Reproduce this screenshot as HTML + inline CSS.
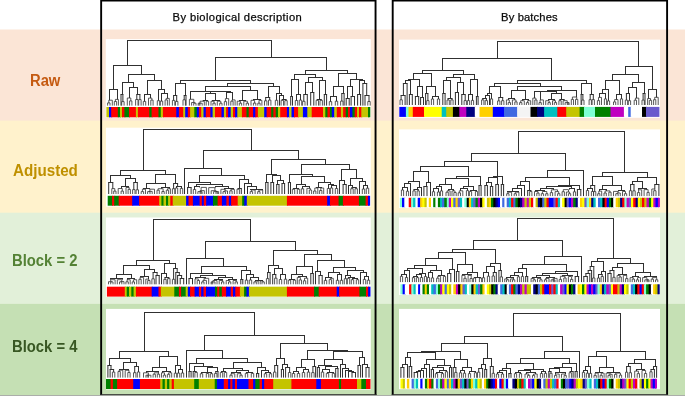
<!DOCTYPE html>
<html><head><meta charset="utf-8"><title>Dendrograms</title>
<style>
html,body{margin:0;padding:0;background:#fff;}
body{width:685px;height:396px;position:relative;overflow:hidden;font-family:"Liberation Sans",sans-serif;}
.lab{position:absolute;font-weight:bold;white-space:nowrap;line-height:1;transform-origin:0 0;}
.ttl{position:absolute;white-space:nowrap;line-height:1;color:#0a0a0a;transform-origin:0 0;-webkit-text-stroke:0.25px #0a0a0a;}
svg{position:absolute;left:0;top:0;}
</style></head><body>
<svg width="685" height="396" viewBox="0 0 685 396">
<rect x="0" y="29.5" width="685" height="92" fill="#fbe5d6"/>
<rect x="0" y="120.6" width="685" height="93" fill="#fff2cc"/>
<rect x="0" y="212.7" width="685" height="92" fill="#e2f0d9"/>
<rect x="0" y="303.9" width="685" height="93" fill="#c5e0b4"/>
<rect x="0" y="395.1" width="685" height="1" fill="#a9a9a9"/>
<path d="M101.15 395V0.45H375.55V395M392.7 395V0.45H667.1V395" fill="none" stroke="#000" stroke-width="1.9"/>
<path d="M100.2 394.6H376.5M391.75 394.6H668.05" fill="none" stroke="#2e2e2e" stroke-width="0.9"/>
<g><rect x="105.8" y="39.1" width="265" height="78.7" fill="#fff"/>
<path d="M108.8 100.2H112.3M108.8 100.2V102.9M107.6 105.6V102.9H110V105.6M112.3 100.2V105.6M115.4 99.4H118.4M115.4 99.4V101.5M114.3 105.6V101.5H116.6V105.6M118.4 99.4V105.6M121.7 105.6V101.6H124.1V105.6M127.3 98H130.8M127.3 98V105.6M130.8 98V100.9M129.6 105.6V100.9H131.9V105.6M135.6 105.6V99.5H138V105.6M138.7 105.6V99.6H141.1V105.6M143.3 105.6V101.4H145.7V105.6M148.5 98.1H151.9M148.5 98.1V105.6M151.9 98.1V100.1M150.8 105.6V100.1H153.1V105.6M157.3 105.6V100.7H159.7V105.6M160.3 105.6V101.1H162.7V105.6M166.2 98.4H169.3M166.2 98.4V99.9M165.1 105.6V99.9H167.4V105.6M169.3 98.4V105.6M172.4 105.6V100.4H174.8V105.6M175.5 105.6V101.4H177.9V105.6M183 105.6V99.8H185.4V105.6M189.4 99.3H193.8M189.4 99.3V105.6M193.8 99.3V102.5M191.6 102.5H194.8M191.6 102.5V105.6M194.8 102.5V103.2M193.7 105.6V103.2H196V105.6M200.1 101.2H204.3M200.1 101.2V103.2M199.1 103.2H202.2M199.1 103.2V105.6M198.2 103.2H200M198.2 103.2V105.6M200 103.2V105.6M202.2 103.2V105.6M204.3 101.2V105.6M206.2 105.6V101.2H208.6V105.6M211 101.2H214.1M211 101.2V105.6M214.1 101.2V103.2M212.9 105.6V103.2H215.2V105.6M217.3 101.2H220.8M217.3 101.2V105.6M220.8 101.2V103.2M219.7 105.6V103.2H222V105.6M225.4 98.6H228.7M225.4 98.6V101.6M224.3 105.6V101.6H226.6V105.6M228.7 98.6V105.6M232 99.9H235.1M232 99.9V101.2M230.8 105.6V101.2H233.1V105.6M235.1 99.9V105.6M237.2 101.2H240.4M237.2 101.2V105.6M240.4 101.2V103.2M239.3 105.6V103.2H241.6V105.6M243.8 101.2H247.4M243.8 101.2V105.6M247.4 101.2V103.2M246.2 105.6V103.2H248.5V105.6M251 100.3H254.6M251 100.3V105.6M254.6 100.3V103.1M253.4 105.6V103.1H255.8V105.6M259 100.3H261.9M259 100.3V103.2M257.8 105.6V103.2H260.1V105.6M261.9 100.3V105.6M264.5 105.6V100.8H266.9V105.6M268.5 105.6V100.1H270.9V105.6M275.3 105.6V100.3H277.7V105.6M281.1 105.6V100.3H283.5V105.6M284.8 105.6V100.6H287.2V105.6M295.3 105.6V100.5H297.7V105.6M299.3 105.6V100.1H301.7V105.6M302.6 105.6V101.3H305V105.6M316.1 105.6V100.3H318.5V105.6M320 105.6V100.3H322.4V105.6M329.3 105.6V101.6H331.7V105.6M335.3 105.6V101.2H337.7V105.6M340.6 105.6V101.1H343V105.6M367.8 105.6V101.5H370.2V105.6" fill="none" stroke="#3c3c3c" stroke-width="0.85"/>
<path d="M127 40.5H272M127.5 40.5V65.5M271.5 40.5V57.5M113 65.5H142M113.5 65.5V89.5M141.5 65.5V74.5M109 89.5H118M128 74.5H155M128.5 74.5V82.5M154.5 74.5V80.5M122 82.5H134M122.5 82.5V94.5M133.5 82.5V87.5M120.5 94.5H123.4M129 87.5H138M137.5 87.5V94.5M136.3 94.5H140.4M147 80.5H162M147.5 80.5V94.5M161.5 80.5V89.5M144 94.5H151M158 89.5H165M164.5 89.5V93.5M161 93.5H168M175 83.5H186M175.5 83.5V95.5M185.5 83.5V95.5M173.1 95.5H177.2M183.7 95.5H186.5M180 80.5H251M180.5 80.5V83.5M250.5 80.5V83.5M215 57.5H327M215.5 57.5V80.5M326.5 57.5V70.5M227 83.5H274M227.5 83.5V86.5M273.5 83.5V86.5M205 86.5H251M205.5 86.5V91.5M250.5 86.5V90.5M190 91.5H221M220.5 91.5V91.5M210 91.5H231M210.5 91.5V93.5M230.5 91.5V92.5M205 93.5H216M205.5 93.5V100.5M215.5 93.5V100.5M226 92.5H233M202.8 100.5H207.9M212 100.5H220M242 90.5H258M242.5 90.5V100.5M257.5 90.5V99.5M239 100.5H246M253 99.5H261M268 86.5H280M268.5 86.5V97.5M279.5 86.5V93.5M265.2 97.5H270.2M276 93.5H282M281.5 93.5V95.5M279 95.5H284M283.5 95.5V99.5M281.8 99.5H286.5M305 70.5H348M305.5 70.5V74.5M347.5 70.5V73.5M294 74.5H316M294.5 74.5V79.5M315.5 74.5V77.5M291 79.5H299M291.5 79.5V96.5M298.5 79.5V94.5M290.2 96.5H293M296 94.5H301M308 77.5H323M308.5 77.5V82.5M322.5 77.5V80.5M305 82.5H313M305.5 82.5V94.5M312.5 82.5V92.5M303.3 94.5H307.8M310.2 92.5H314.3M319 80.5H326M319.5 80.5V99.5M325.5 80.5V94.5M316.8 99.5H321.7M323.8 94.5H327.1M338 73.5H357M338.5 73.5V86.5M356.5 73.5V79.5M333 86.5H344M333.5 86.5V96.5M343.5 86.5V93.5M330 96.5H337M341.3 93.5H344.6M350 79.5H363M350.5 79.5V86.5M362.5 79.5V80.5M347 86.5H353M347.5 86.5V98.5M352.5 86.5V96.5M345.7 98.5H349.7M350.6 96.5H355M359 80.5H365M359.5 80.5V94.5M364.5 80.5V83.5M357.1 94.5H361.1M362.4 83.5H367.2M366.7 83.5V95.5M364.5 95.5H369.5M109.5 89.5V100.2M117.5 89.5V99.4M121 94.5V105.6M122.9 94.5V101.6M129.5 87.5V98M136.8 94.5V99.5M139.9 94.5V99.6M144.5 94.5V101.4M150.5 94.5V98.1M158.5 89.5V100.7M161.5 93.5V101.1M167.5 93.5V98.4M173.6 95.5V100.4M176.7 95.5V101.4M184.2 95.5V99.8M186 95.5V105.6M190.5 91.5V99.3M203.3 100.5V101.2M207.4 100.5V101.2M212.5 100.5V101.2M219.5 100.5V101.2M226.5 92.5V98.6M232.5 92.5V99.9M239.5 100.5V101.2M245.5 100.5V101.2M253.5 99.5V100.3M260.5 99.5V100.3M265.7 97.5V100.8M269.7 97.5V100.1M276.5 93.5V100.3M279.5 95.5V105.6M282.3 99.5V100.3M286 99.5V100.6M290.7 96.5V105.6M292.5 96.5V105.6M296.5 94.5V100.5M300.5 94.5V100.1M303.8 94.5V101.3M307.3 94.5V105.6M310.7 92.5V105.6M313.8 92.5V105.6M317.3 99.5V100.3M321.2 99.5V100.3M324.3 94.5V105.6M326.6 94.5V105.6M330.5 96.5V101.6M336.5 96.5V101.2M341.8 93.5V101.1M344.1 93.5V105.6M346.2 98.5V105.6M349.2 98.5V105.6M351.1 96.5V105.6M354.5 96.5V105.6M357.6 94.5V105.6M360.6 94.5V105.6M362.9 83.5V105.6M365 95.5V105.6M369 95.5V101.5" fill="none" stroke="#303030" stroke-width="1"/>
<rect x="106.4" y="107" width="3.6" height="10.3" fill="#c4c400"/>
<rect x="109" y="107" width="3.2" height="10.3" fill="#0000ff"/>
<rect x="111.2" y="107" width="7.6" height="10.3" fill="#ff0000"/>
<rect x="117.8" y="107" width="3.2" height="10.3" fill="#008000"/>
<rect x="120" y="107" width="3" height="10.3" fill="#c4c400"/>
<rect x="122" y="107" width="3.4" height="10.3" fill="#ff0000"/>
<rect x="124.4" y="107" width="5.6" height="10.3" fill="#008000"/>
<rect x="129" y="107" width="7.9" height="10.3" fill="#ff0000"/>
<rect x="135.9" y="107" width="3" height="10.3" fill="#c4c400"/>
<rect x="137.9" y="107" width="12.4" height="10.3" fill="#ff0000"/>
<rect x="149.3" y="107" width="3.3" height="10.3" fill="#008000"/>
<rect x="151.6" y="107" width="7.9" height="10.3" fill="#ff0000"/>
<rect x="158.5" y="107" width="3.3" height="10.3" fill="#008000"/>
<rect x="160.8" y="107" width="3.1" height="10.3" fill="#c4c400"/>
<rect x="162.9" y="107" width="14.4" height="10.3" fill="#ff0000"/>
<rect x="176.3" y="107" width="3.6" height="10.3" fill="#0000ff"/>
<rect x="178.9" y="107" width="5.3" height="10.3" fill="#ff0000"/>
<rect x="183.2" y="107" width="3" height="10.3" fill="#c4c400"/>
<rect x="185.2" y="107" width="3.6" height="10.3" fill="#0000ff"/>
<rect x="187.8" y="107" width="3.3" height="10.3" fill="#ff0000"/>
<rect x="190.1" y="107" width="5.2" height="10.3" fill="#c4c400"/>
<rect x="194.3" y="107" width="3.5" height="10.3" fill="#008000"/>
<rect x="196.8" y="107" width="3.1" height="10.3" fill="#0000ff"/>
<rect x="198.9" y="107" width="3.3" height="10.3" fill="#ff0000"/>
<rect x="201.2" y="107" width="3.3" height="10.3" fill="#c4c400"/>
<rect x="203.5" y="107" width="3.3" height="10.3" fill="#0000ff"/>
<rect x="205.8" y="107" width="5.6" height="10.3" fill="#ff0000"/>
<rect x="210.4" y="107" width="3.2" height="10.3" fill="#0000ff"/>
<rect x="212.6" y="107" width="3.4" height="10.3" fill="#c4c400"/>
<rect x="215" y="107" width="7.5" height="10.3" fill="#ff0000"/>
<rect x="221.5" y="107" width="3.4" height="10.3" fill="#0000ff"/>
<rect x="223.9" y="107" width="3.2" height="10.3" fill="#c4c400"/>
<rect x="226.1" y="107" width="3" height="10.3" fill="#ff0000"/>
<rect x="228.1" y="107" width="3.6" height="10.3" fill="#0000ff"/>
<rect x="230.7" y="107" width="3.3" height="10.3" fill="#c4c400"/>
<rect x="233" y="107" width="3.1" height="10.3" fill="#ff0000"/>
<rect x="235.1" y="107" width="3.2" height="10.3" fill="#0000ff"/>
<rect x="237.3" y="107" width="5.6" height="10.3" fill="#c4c400"/>
<rect x="241.9" y="107" width="5.6" height="10.3" fill="#ff0000"/>
<rect x="246.5" y="107" width="3.2" height="10.3" fill="#008000"/>
<rect x="248.7" y="107" width="5.4" height="10.3" fill="#ff0000"/>
<rect x="253.1" y="107" width="3.2" height="10.3" fill="#0000ff"/>
<rect x="255.3" y="107" width="3.6" height="10.3" fill="#ff0000"/>
<rect x="257.9" y="107" width="7.3" height="10.3" fill="#c4c400"/>
<rect x="264.2" y="107" width="3.4" height="10.3" fill="#0000ff"/>
<rect x="266.6" y="107" width="5.6" height="10.3" fill="#ff0000"/>
<rect x="271.2" y="107" width="3.2" height="10.3" fill="#008000"/>
<rect x="273.4" y="107" width="3.3" height="10.3" fill="#ff0000"/>
<rect x="275.7" y="107" width="3.3" height="10.3" fill="#008000"/>
<rect x="278" y="107" width="3.2" height="10.3" fill="#c4c400"/>
<rect x="280.2" y="107" width="7.7" height="10.3" fill="#ff0000"/>
<rect x="286.9" y="107" width="3.2" height="10.3" fill="#0000ff"/>
<rect x="289.1" y="107" width="3.4" height="10.3" fill="#c4c400"/>
<rect x="291.5" y="107" width="3.5" height="10.3" fill="#0000ff"/>
<rect x="294" y="107" width="5.1" height="10.3" fill="#ff0000"/>
<rect x="298.1" y="107" width="5.8" height="10.3" fill="#c4c400"/>
<rect x="302.9" y="107" width="5.4" height="10.3" fill="#0000ff"/>
<rect x="307.3" y="107" width="5.4" height="10.3" fill="#c4c400"/>
<rect x="311.7" y="107" width="12.3" height="10.3" fill="#ff0000"/>
<rect x="323" y="107" width="3.3" height="10.3" fill="#c4c400"/>
<rect x="325.3" y="107" width="3.2" height="10.3" fill="#008000"/>
<rect x="327.5" y="107" width="3.4" height="10.3" fill="#ff0000"/>
<rect x="329.9" y="107" width="2.9" height="10.3" fill="#008000"/>
<rect x="331.8" y="107" width="3.4" height="10.3" fill="#0000ff"/>
<rect x="334.2" y="107" width="3.6" height="10.3" fill="#c4c400"/>
<rect x="336.8" y="107" width="5.1" height="10.3" fill="#ff0000"/>
<rect x="340.9" y="107" width="3.2" height="10.3" fill="#c4c400"/>
<rect x="343.1" y="107" width="3.6" height="10.3" fill="#ff0000"/>
<rect x="345.7" y="107" width="3.3" height="10.3" fill="#008000"/>
<rect x="348" y="107" width="2.9" height="10.3" fill="#ff0000"/>
<rect x="349.9" y="107" width="3.5" height="10.3" fill="#0000ff"/>
<rect x="352.4" y="107" width="3.3" height="10.3" fill="#008000"/>
<rect x="354.7" y="107" width="3.3" height="10.3" fill="#ff0000"/>
<rect x="357" y="107" width="3" height="10.3" fill="#c4c400"/>
<rect x="359" y="107" width="3.3" height="10.3" fill="#ff0000"/>
<rect x="361.3" y="107" width="7.7" height="10.3" fill="#c4c400"/>
<rect x="368" y="107" width="2.3" height="10.3" fill="#008000"/></g>
<g><rect x="399" y="39.6" width="261" height="78.2" fill="#fff"/>
<path d="M400 105V99.8H402.3V105M426.7 105V100.6H429V105M431.4 105V99H433.6V105M437.4 105V99H439.6V105M447 105V100H449.3V105M450.8 105V99.9H453.1V105M464.1 105V100.6H466.4V105M467.4 105V100.6H469.6V105M471.4 105V100.4H473.6V105M481.6 105V99.9H483.9V105M485.2 105V100.6H487.5V105M490.4 105V98.9H492.6V105M497.6 105V100.9H499.9V105M501.6 105V100.7H503.9V105M506.4 99.9H509.3M506.4 99.9V105M509.3 99.9V102.6M508.2 105V102.6H510.5V105M512.4 99.9H516M512.4 99.9V105M516 99.9V101.9M514.8 105V101.9H517.1V105M520.7 100.7H524.3M520.7 100.7V102.6M519.6 105V102.6H521.9V105M524.3 100.7V105M527.6 100.7H530.7M527.6 100.7V102.6M526.4 105V102.6H528.7V105M530.7 100.7V105M532.8 98.1H535.9M532.8 98.1V105M535.9 98.1V100M534.8 105V100H537V105M540.1 99.9H543.4M540.1 99.9V102.6M539 105V102.6H541.3V105M543.4 99.9V105M545.7 100.7H549.2M545.7 100.7V105M549.2 100.7V102.6M548 105V102.6H550.3V105M552.5 100.7H555.5M552.5 100.7V105M555.5 100.7V102.6M554.3 105V102.6H556.6V105M558.9 105V100.7H561.2V105M563.1 100.7H567.2M563.1 100.7V105M567.2 100.7V102.6M565.1 102.6H568.2M565.1 102.6V105M568.2 102.6V105M567.3 102.6H569.1M567.3 102.6V105M569.1 102.6V105M572.4 97H576.7M572.4 97V99.4M571.3 105V99.4H573.5V105M576.7 97V99.4M575.5 105V99.4H577.8V105M581.7 105V100.1H584V105M589.1 105V99.7H591.4V105M592.1 105V99.6H594.4V105M598.5 97.4H601.5M598.5 97.4V100.6M597.4 105V100.6H599.6V105M601.5 97.4V105M604.4 105V98.9H606.6V105M607.4 105V100.9H609.6V105M614.6 99.6H618M614.6 99.6V101.9M613.5 105V101.9H615.7V105M618 99.6V105M620.4 105V98.9H622.6V105M625.3 105V100.1H627.6V105M628.3 105V100.7H630.6V105M635.4 98.1H638.8M635.4 98.1V100.2M634.2 105V100.2H636.5V105M638.8 98.1V105M642 105V100.1H644.3V105M647.6 98.5H650.5M647.6 98.5V105M650.5 98.5V100.3M649.3 105V100.3H651.6V105M654.7 97.3H658.2M654.7 97.3V99.7M653.6 105V99.7H655.8V105M658.2 97.3V105" fill="none" stroke="#3c3c3c" stroke-width="0.85"/>
<path d="M497 41.5H639M497.5 41.5V58.5M638.5 41.5V66.5M625 66.5H653M625.5 66.5V74.5M652.5 66.5V89.5M648 89.5H657M612 74.5H639M612.5 74.5V80.5M638.5 74.5V82.5M632 82.5H645M632.5 82.5V87.5M644.5 82.5V93.5M642.6 93.5H645.5M628 87.5H637M628.5 87.5V93.5M625.9 93.5H630M605 80.5H620M605.5 80.5V89.5M619.5 80.5V94.5M616 94.5H622M602 89.5H609M602.5 89.5V93.5M599 93.5H606M581 83.5H592M581.5 83.5V94.5M591.5 83.5V94.5M589.7 94.5H593.8M580.6 94.5H583.4M517 80.5H587M517.5 80.5V83.5M586.5 80.5V83.5M442 58.5H552M442.5 58.5V70.5M551.5 58.5V80.5M494 83.5H541M494.5 83.5V86.5M540.5 83.5V86.5M517 86.5H562M517.5 86.5V90.5M561.5 86.5V90.5M547 90.5H577M547.5 90.5V91.5M537 91.5H557M537.5 91.5V91.5M556.5 91.5V93.5M551 93.5H562M551.5 93.5V99.5M561.5 93.5V99.5M534 91.5H541M559.5 99.5H564.6M548 99.5H555M511 90.5H526M511.5 90.5V98.5M525.5 90.5V99.5M522 99.5H529M508 98.5H515M489 86.5H501M489.5 86.5V93.5M500.5 86.5V97.5M498.3 97.5H503.2M487 93.5H492M487.5 93.5V95.5M485 95.5H490M485.5 95.5V98.5M482.2 98.5H486.9M422 70.5H464M422.5 70.5V73.5M463.5 70.5V74.5M453 74.5H475M453.5 74.5V77.5M474.5 74.5V79.5M470 79.5H478M470.5 79.5V94.5M477.5 79.5V96.5M475.9 96.5H478.6M468 94.5H473M446 77.5H461M446.5 77.5V80.5M460.5 77.5V82.5M457 82.5H464M457.5 82.5V92.5M463.5 82.5V94.5M461.3 94.5H465.7M454.9 92.5H459M443 80.5H451M443.5 80.5V93.5M450.5 80.5V98.5M447.6 98.5H452.5M442.3 93.5H445.6M413 73.5H432M413.5 73.5V79.5M431.5 73.5V86.5M426 86.5H436M426.5 86.5V93.5M435.5 86.5V96.5M432 96.5H439M425.1 93.5H428.4M408 79.5H420M408.5 79.5V80.5M419.5 79.5V86.5M417 86.5H423M417.5 86.5V96.5M422.5 86.5V97.5M420.1 97.5H424M414.9 96.5H419.2M405 80.5H411M405.5 80.5V83.5M410.5 80.5V94.5M408.9 94.5H412.8M402.9 83.5H407.6M403.4 83.5V95.5M400.6 95.5H405.6M401.1 95.5V99.8M405.1 95.5V105M407.1 83.5V105M409.4 94.5V105M412.3 94.5V105M415.4 96.5V105M418.7 96.5V105M420.6 97.5V105M423.5 97.5V105M425.6 93.5V105M427.9 93.5V100.6M432.5 96.5V99M438.5 96.5V99M442.8 93.5V105M445.1 93.5V105M448.1 98.5V100M452 98.5V99.9M455.4 92.5V105M458.5 92.5V105M461.8 94.5V105M465.2 94.5V100.6M468.5 94.5V100.6M472.5 94.5V100.4M476.4 96.5V105M478.1 96.5V105M482.7 98.5V99.9M486.4 98.5V100.6M489.5 95.5V105M491.5 93.5V98.9M498.8 97.5V100.9M502.7 97.5V100.7M508.5 98.5V99.9M514.5 98.5V99.9M522.5 99.5V100.7M528.5 99.5V100.7M534.5 91.5V98.1M540.5 91.5V99.9M548.5 99.5V100.7M554.5 99.5V100.7M560 99.5V100.7M564.1 99.5V100.7M576.5 90.5V97M581.1 94.5V105M582.9 94.5V100.1M590.2 94.5V99.7M593.3 94.5V99.6M599.5 93.5V97.4M605.5 93.5V98.9M608.5 89.5V100.9M616.5 94.5V99.6M621.5 94.5V98.9M626.4 93.5V100.1M629.5 93.5V100.7M636.5 87.5V98.1M643.1 93.5V100.1M645 93.5V105M648.5 89.5V98.5M656.5 89.5V97.3" fill="none" stroke="#303030" stroke-width="1"/>
<rect x="399.3" y="106.9" width="7.6" height="10" fill="#0000ff"/>
<rect x="405.9" y="106.9" width="3.6" height="10" fill="#7fffd4"/>
<rect x="408.5" y="106.9" width="5.3" height="10" fill="#ffd000"/>
<rect x="412.8" y="106.9" width="12.2" height="10" fill="#ff0000"/>
<rect x="424" y="106.9" width="18.7" height="10" fill="#ffff00"/>
<rect x="441.7" y="106.9" width="5.5" height="10" fill="#00c0c0"/>
<rect x="446.2" y="106.9" width="7.7" height="10" fill="#c4c400"/>
<rect x="452.9" y="106.9" width="7.4" height="10" fill="#000000"/>
<rect x="459.3" y="106.9" width="8" height="10" fill="#c000c0"/>
<rect x="466.3" y="106.9" width="9.5" height="10" fill="#000080"/>
<rect x="474.8" y="106.9" width="5.7" height="10" fill="#ffffff"/>
<rect x="479.5" y="106.9" width="14.3" height="10" fill="#ffd000"/>
<rect x="492.8" y="106.9" width="12.2" height="10" fill="#0000ff"/>
<rect x="504" y="106.9" width="14.1" height="10" fill="#4169e1"/>
<rect x="517.1" y="106.9" width="14.4" height="10" fill="#f4f4f4"/>
<rect x="530.5" y="106.9" width="7.6" height="10" fill="#000000"/>
<rect x="537.1" y="106.9" width="8" height="10" fill="#000080"/>
<rect x="544.1" y="106.9" width="14.2" height="10" fill="#00c0c0"/>
<rect x="557.3" y="106.9" width="9.9" height="10" fill="#ff0000"/>
<rect x="566.2" y="106.9" width="14.4" height="10" fill="#c4c400"/>
<rect x="579.6" y="106.9" width="5.4" height="10" fill="#008000"/>
<rect x="584" y="106.9" width="12" height="10" fill="#7fffd4"/>
<rect x="595" y="106.9" width="16.5" height="10" fill="#008000"/>
<rect x="610.5" y="106.9" width="14.4" height="10" fill="#c000c0"/>
<rect x="623.9" y="106.9" width="5.3" height="10" fill="#ffffff"/>
<rect x="628.2" y="106.9" width="3.5" height="10" fill="#4169e1"/>
<rect x="630.7" y="106.9" width="12.3" height="10" fill="#ffffff"/>
<rect x="642" y="106.9" width="5" height="10" fill="#000000"/>
<rect x="646" y="106.9" width="13.4" height="10" fill="#6a5acd"/></g>
<g><rect x="106" y="127.7" width="264.8" height="79" fill="#fff"/>
<path d="M111.8 188.6H114.8M111.8 188.6V194M114.8 188.6V191.1M113.7 194V191.1H116V194M118.2 188.5H122.3M118.2 188.5V194M122.3 188.5V191.1M121.1 194V191.1H123.4V194M126 187.5H129.2M126 187.5V194M129.2 187.5V189.4M128.1 194V189.4H130.4V194M132.6 194V189.6H135V194M136.1 194V189.8H138.5V194M142.4 189.2H145.5M142.4 189.2V191.6M141.2 194V191.6H143.6V194M145.5 189.2V194M149.9 189.2H154.5M149.9 189.2V191.4M148.8 191.4H152.2M148.8 191.4V191.6M147.6 194V191.6H150V194M152.2 191.4V194M154.5 189.2V194M158.1 188.7H163.1M158.1 188.7V190.2M157 194V190.2H159.3V194M163.1 188.7V191.5M161.9 194V191.5H164.2V194M167.5 188.7H170.4M167.5 188.7V190.2M166.3 194V190.2H168.6V194M170.4 188.7V194M172.4 194V188.7H174.8V194M175.3 194V188H177.7V194M180.3 194V188.4H182.7V194M193.3 194V189.5H195.7V194M201.1 187.4H206.4M201.1 187.4V190.6M200 190.6H204.3M200 190.6V191.6M197.9 191.6H201.1M197.9 191.6V194M201.1 191.6V194M200.1 191.6H202.1M200.1 191.6V194M202.1 191.6V194M204.3 190.6V194M206.4 187.4V194M208.7 187.6H214.9M208.7 187.6V194M214.9 187.6V190.7M211.2 190.7H216.1M211.2 190.7V194M216.1 190.7V191.6M213.6 191.6H217.3M213.6 191.6V194M217.3 191.6V194M216 191.6H218.6M216 191.6V194M218.6 191.6V194M220.9 189.3H225.3M220.9 189.3V194M225.3 189.3V190.9M224.2 190.9H227.5M224.2 190.9V191.6M223 194V191.6H225.4V194M227.5 190.9V194M230.9 189.3H234.4M230.9 189.3V190.8M229.8 194V190.8H232.1V194M234.4 189.3V194M237 194V189.2H239.4V194M251.4 190H255.1M251.4 190V191.6M250.2 194V191.6H252.6V194M255.1 190V194M258.9 190H262.7M258.9 190V191.6M257.7 194V191.6H260V194M262.7 190V194M292.3 194V189.2H294.7V194M297.3 194V189.2H299.7V194M301.3 194V188.8H303.7V194M306.9 188.4H310.4M306.9 188.4V194M310.4 188.4V190M309.3 194V190H311.6V194M314.8 188H317.8M314.8 188V191M313.6 194V191H315.9V194M317.8 188V194M320.8 188H323.7M320.8 188V190.5M319.6 194V190.5H321.9V194M323.7 188V194M327.3 194V188.5H329.7V194M330.3 194V188H332.7V194M335.3 194V188.5H337.7V194M350.8 194V188.7H353.2V194M355 194V188.7H357.4V194M362.3 194V189H364.7V194M366.3 194V188.2H368.7V194" fill="none" stroke="#3c3c3c" stroke-width="0.85"/>
<path d="M143 129.5H252M143.5 129.5V170.5M251.5 129.5V150.5M120 170.5H166M120.5 170.5V175.5M165.5 170.5V174.5M110 175.5H131M110.5 175.5V182.5M130.5 175.5V178.5M108.2 182.5H113.3M125 178.5H136M125.5 178.5V186.5M135.5 178.5V182.5M121 186.5H129M133.3 182.5H137.8M155 174.5H176M155.5 174.5V183.5M175.5 174.5V183.5M146 183.5H166M146.5 183.5V188.5M165.5 183.5V187.5M143 188.5H150M161 187.5H170M173.1 183.5H178.1M177.6 183.5V186.5M176 186.5H182M203 150.5H299M203.5 150.5V168.5M298.5 150.5V159.5M184 168.5H222M184.5 168.5V194M221.5 168.5V175.5M199 175.5H245M199.5 175.5V182.5M244.5 175.5V179.5M188 182.5H211M188.5 182.5V187.5M210.5 182.5V184.5M187.1 187.5H191.6M196 184.5H223M196.5 184.5V186.5M222.5 184.5V186.5M194 186.5H200M215 186.5H229M228.5 186.5V188.5M224 188.5H234M239 179.5H249M239.5 179.5V188.5M248.5 179.5V183.5M237.7 188.5H241.8M244 183.5H252M251.5 183.5V186.5M247 186.5H257M256.5 186.5V189.5M250 189.5H263M271 159.5H326M271.5 159.5V174.5M325.5 159.5V164.5M266 174.5H277M266.5 174.5V182.5M276.5 174.5V175.5M272 175.5H281M272.5 175.5V182.5M280.5 175.5V180.5M265.2 182.5H268.5M270.4 182.5H274.1M277 180.5H284M277.5 180.5V184.5M283.5 180.5V183.5M276.2 184.5H279.5M281.5 183.5H285.1M301 164.5H350M301.5 164.5V174.5M349.5 164.5V169.5M289 174.5H313M289.5 174.5V182.5M312.5 174.5V176.5M287.9 182.5H291M301 176.5H325M301.5 176.5V184.5M324.5 176.5V182.5M296 184.5H306M296.5 184.5V188.5M305.5 184.5V186.5M293 188.5H299M302 186.5H310M318 182.5H331M318.5 182.5V187.5M330.5 182.5V184.5M316 187.5H322M328 184.5H334M333.5 184.5V185.5M331 185.5H337M341 169.5H357M341.5 169.5V180.5M356.5 169.5V178.5M339 180.5H345M344.5 180.5V184.5M342.6 184.5H346.7M350 178.5H363M350.5 178.5V185.5M362.5 178.5V181.5M348 185.5H353M352.5 185.5V187.5M351.5 187.5H356.7M359 181.5H366M359.5 181.5V194M365.5 181.5V185.5M363 185.5H368M108.7 182.5V194M112.8 182.5V188.6M121.5 186.5V188.5M128.5 186.5V187.5M133.8 182.5V189.6M137.3 182.5V189.8M143.5 188.5V189.2M149.5 188.5V189.2M161.5 187.5V188.7M169.5 187.5V188.7M173.6 183.5V188.7M176.5 186.5V188M181.5 186.5V188.4M187.6 187.5V194M191.1 187.5V194M194.5 186.5V189.5M199.5 186.5V187.4M215.5 186.5V187.6M224.5 188.5V189.3M233.5 188.5V189.3M238.2 188.5V189.2M241.3 188.5V194M244.5 183.5V194M247.5 186.5V194M250.5 189.5V190M262.5 189.5V190M265.7 182.5V194M268 182.5V194M270.9 182.5V194M273.6 182.5V194M276.7 184.5V194M279 184.5V194M282 183.5V194M284.6 183.5V194M288.4 182.5V194M290.5 182.5V194M293.5 188.5V189.2M298.5 188.5V189.2M302.5 186.5V188.8M309.5 186.5V188.4M316.5 187.5V188M321.5 187.5V188M328.5 184.5V188.5M331.5 185.5V188M336.5 185.5V188.5M339.5 180.5V194M343.1 184.5V194M346.2 184.5V194M348.5 185.5V194M352 187.5V188.7M356.2 187.5V188.7M363.5 185.5V189M367.5 185.5V188.2" fill="none" stroke="#303030" stroke-width="1"/>
<rect x="107.7" y="195.8" width="5.4" height="9.9" fill="#008000"/>
<rect x="112.1" y="195.8" width="3.1" height="9.9" fill="#ff0000"/>
<rect x="114.2" y="195.8" width="5.5" height="9.9" fill="#008000"/>
<rect x="118.7" y="195.8" width="14.5" height="9.9" fill="#ff0000"/>
<rect x="132.2" y="195.8" width="7.9" height="9.9" fill="#0000ff"/>
<rect x="139.1" y="195.8" width="21.1" height="9.9" fill="#ff0000"/>
<rect x="159.2" y="195.8" width="3.2" height="9.9" fill="#c4c400"/>
<rect x="161.4" y="195.8" width="3.1" height="9.9" fill="#008000"/>
<rect x="163.5" y="195.8" width="3.5" height="9.9" fill="#c4c400"/>
<rect x="166" y="195.8" width="3.1" height="9.9" fill="#008000"/>
<rect x="168.1" y="195.8" width="3.2" height="9.9" fill="#c4c400"/>
<rect x="170.3" y="195.8" width="3.4" height="9.9" fill="#ff0000"/>
<rect x="172.7" y="195.8" width="14.4" height="9.9" fill="#c4c400"/>
<rect x="186.1" y="195.8" width="3.4" height="9.9" fill="#0000ff"/>
<rect x="188.5" y="195.8" width="5.4" height="9.9" fill="#ff0000"/>
<rect x="192.9" y="195.8" width="7.7" height="9.9" fill="#0000ff"/>
<rect x="199.6" y="195.8" width="3.2" height="9.9" fill="#ff0000"/>
<rect x="201.8" y="195.8" width="3" height="9.9" fill="#0000ff"/>
<rect x="203.8" y="195.8" width="3.4" height="9.9" fill="#ff0000"/>
<rect x="206.2" y="195.8" width="7.8" height="9.9" fill="#0000ff"/>
<rect x="213" y="195.8" width="5.6" height="9.9" fill="#008000"/>
<rect x="217.6" y="195.8" width="5.3" height="9.9" fill="#ff0000"/>
<rect x="221.9" y="195.8" width="5.5" height="9.9" fill="#0000ff"/>
<rect x="226.4" y="195.8" width="3.4" height="9.9" fill="#ff0000"/>
<rect x="228.8" y="195.8" width="3.3" height="9.9" fill="#0000ff"/>
<rect x="231.1" y="195.8" width="7.6" height="9.9" fill="#ff0000"/>
<rect x="237.7" y="195.8" width="5.5" height="9.9" fill="#c4c400"/>
<rect x="242.2" y="195.8" width="3.1" height="9.9" fill="#008000"/>
<rect x="244.3" y="195.8" width="3.5" height="9.9" fill="#0000ff"/>
<rect x="246.8" y="195.8" width="41.1" height="9.9" fill="#c4c400"/>
<rect x="286.9" y="195.8" width="41.3" height="9.9" fill="#ff0000"/>
<rect x="327.2" y="195.8" width="3.7" height="9.9" fill="#0000ff"/>
<rect x="329.9" y="195.8" width="9.7" height="9.9" fill="#ff0000"/>
<rect x="338.6" y="195.8" width="5.3" height="9.9" fill="#008000"/>
<rect x="342.9" y="195.8" width="17" height="9.9" fill="#ff0000"/>
<rect x="358.9" y="195.8" width="7.7" height="9.9" fill="#008000"/>
<rect x="365.6" y="195.8" width="3.3" height="9.9" fill="#ff0000"/>
<rect x="367.9" y="195.8" width="2.2" height="9.9" fill="#0000ff"/></g>
<g><rect x="399" y="129.4" width="261" height="78.6" fill="#fff"/>
<path d="M401.4 196.1V190H403.6V196.1M406.4 196.1V191.2H408.6V196.1M412.9 196.1V190.9H415.2V196.1M417.1 196.1V190.9H419.3V196.1M432.4 196.1V191.7H434.6V196.1M437.4 196.1V192H439.6V196.1M440.4 196.1V190.9H442.6V196.1M447.2 190.8H450.1M447.2 190.8V192.2M446 196.1V192.2H448.3V196.1M450.1 190.8V196.1M452 190.9H455M452 190.9V196.1M455 190.9V192.5M453.9 196.1V192.5H456.2V196.1M459.3 190.8H462.8M459.3 190.8V192.8M458.2 196.1V192.8H460.5V196.1M462.8 190.8V196.1M466.4 196.1V190.6H468.6V196.1M469.4 196.1V191.4H471.6V196.1M475.4 196.1V191.4H477.6V196.1M507.8 192.2H511.6M507.8 192.2V193.7M506.7 196.1V193.7H509V196.1M511.6 192.2V196.1M515.3 192.2H518.9M515.3 192.2V193.7M514.2 196.1V193.7H516.4V196.1M518.9 192.2V196.1M529.6 196.1V191.4H531.9V196.1M534.5 191.5H538M534.5 191.5V196.1M538 191.5V193.1M536.8 196.1V193.1H539.1V196.1M542.4 191.5H546.8M542.4 191.5V193.7M541.3 196.1V193.7H543.6V196.1M546.8 191.5V193.7M545.7 196.1V193.7H547.9V196.1M551.4 189.8H557.5M551.4 189.8V192.6M550.3 196.1V192.6H552.6V196.1M557.5 189.8V191.6M555.1 191.6H558.7M555.1 191.6V196.1M558.7 191.6V193.7M557.6 196.1V193.7H559.9V196.1M563.3 189.6H568.5M563.3 189.6V191.7M562.1 196.1V191.7H564.4V196.1M568.5 189.6V192M566.4 192H569.6M566.4 192V196.1M569.6 192V193.7M568.4 196.1V193.7H570.7V196.1M573.4 196.1V191.8H575.6V196.1M586.4 196.1V190.5H588.6V196.1M591.4 196.1V191.5H593.6V196.1M593.5 196.1V191.6H595.8V196.1M598.8 191.1H601.7M598.8 191.1V193.7M597.7 196.1V193.7H599.9V196.1M601.7 191.1V196.1M605.1 190.9H610M605.1 190.9V193M604 196.1V193H606.3V196.1M610 190.9V192.2M608.8 196.1V192.2H611.1V196.1M613.5 191.4H618.1M613.5 191.4V196.1M618.1 191.4V193M616.9 193H620.3M616.9 193V193.7M615.8 196.1V193.7H618.1V196.1M620.3 193V196.1M622.5 191.4H625.5M622.5 191.4V196.1M625.5 191.4V193.7M624.4 196.1V193.7H626.7V196.1M629.4 196.1V190.7H631.7V196.1M632.9 196.1V190.8H635.2V196.1M638.6 189.8H641.7M638.6 189.8V192.6M637.4 196.1V192.6H639.7V196.1M641.7 189.8V196.1M644.1 189.6H648.1M644.1 189.6V196.1M648.1 189.6V192.4M647 196.1V192.4H649.2V196.1M651.8 189H654.8M651.8 189V196.1M654.8 189V190.7M653.7 196.1V190.7H656V196.1" fill="none" stroke="#3c3c3c" stroke-width="0.85"/>
<path d="M518 131.5H625M518.5 131.5V153.5M624.5 131.5V172.5M602 172.5H648M602.5 172.5V176.5M647.5 172.5V177.5M637 177.5H657M637.5 177.5V181.5M656.5 177.5V184.5M654.3 184.5H659.4M632 181.5H643M632.5 181.5V184.5M642.5 181.5V188.5M638 188.5H647M630.1 184.5H634.5M592 176.5H613M592.5 176.5V185.5M612.5 176.5V185.5M602 185.5H622M602.5 185.5V189.5M621.5 185.5V190.5M618 190.5H625M599 189.5H607M590.2 185.5H595.2M590.7 185.5V188.5M587 188.5H593M471 153.5H566M471.5 153.5V161.5M565.5 153.5V170.5M547 170.5H584M547.5 170.5V177.5M583.5 170.5V196.1M525 177.5H570M525.5 177.5V181.5M569.5 177.5V185.5M558 185.5H580M558.5 185.5V186.5M579.5 185.5V189.5M576.9 189.5H581.3M546 186.5H572M546.5 186.5V188.5M571.5 186.5V188.5M569 188.5H575M540 188.5H554M540.5 188.5V190.5M535 190.5H545M520 181.5H530M520.5 181.5V185.5M529.5 181.5V190.5M527.2 190.5H531.3M517 185.5H525M517.5 185.5V188.5M512 188.5H522M512.5 188.5V191.5M507 191.5H519M444 161.5H498M444.5 161.5V166.5M497.5 161.5V176.5M493 176.5H503M493.5 176.5V177.5M502.5 176.5V184.5M488 177.5H498M488.5 177.5V182.5M497.5 177.5V184.5M500.8 184.5H504.1M495.3 184.5H498.9M486 182.5H492M486.5 182.5V185.5M491.5 182.5V186.5M489.9 186.5H493.2M484.4 185.5H487.9M420 166.5H469M420.5 166.5V171.5M468.5 166.5V176.5M456 176.5H481M456.5 176.5V178.5M480.5 176.5V185.5M478.5 185.5H481.6M445 178.5H469M445.5 178.5V184.5M468.5 178.5V186.5M463 186.5H474M463.5 186.5V188.5M473.5 186.5V190.5M470 190.5H477M460 188.5H468M439 184.5H452M439.5 184.5V186.5M451.5 184.5V189.5M448 189.5H454M436 186.5H442M436.5 186.5V188.5M433 188.5H439M413 171.5H429M413.5 171.5V181.5M428.5 171.5V182.5M426 182.5H431M426.5 182.5V186.5M423.4 186.5H427.5M408 181.5H420M408.5 181.5V183.5M419.5 181.5V187.5M417 187.5H422M417.5 187.5V189.5M413.5 189.5H418.7M404 183.5H411M404.5 183.5V187.5M410.5 183.5V196.1M402 187.5H408M402.5 187.5V190M407.5 187.5V191.2M414 189.5V190.9M418.2 189.5V190.9M421.5 187.5V196.1M423.9 186.5V196.1M427 186.5V196.1M430.5 182.5V196.1M433.5 188.5V191.7M438.5 188.5V192M441.5 186.5V190.9M448.5 189.5V190.8M453.5 189.5V190.9M460.5 188.5V190.8M467.5 188.5V190.6M470.5 190.5V191.4M476.5 190.5V191.4M479 185.5V196.1M481.1 185.5V196.1M484.9 185.5V196.1M487.4 185.5V196.1M490.4 186.5V196.1M492.7 186.5V196.1M495.8 184.5V196.1M498.4 184.5V196.1M501.3 184.5V196.1M503.6 184.5V196.1M507.5 191.5V192.2M518.5 191.5V192.2M521.5 188.5V196.1M524.5 185.5V196.1M527.7 190.5V196.1M530.8 190.5V191.4M535.5 190.5V191.5M544.5 190.5V191.5M553.5 188.5V189.8M569.5 188.5V189.6M574.5 188.5V191.8M577.4 189.5V196.1M580.8 189.5V196.1M587.5 188.5V190.5M592.5 188.5V191.5M594.7 185.5V191.6M599.5 189.5V191.1M606.5 189.5V190.9M618.5 190.5V191.4M624.5 190.5V191.4M630.6 184.5V190.7M634 184.5V190.8M638.5 188.5V189.8M646.5 188.5V189.6M654.8 184.5V189M658.9 184.5V196.1" fill="none" stroke="#303030" stroke-width="1"/>
<rect x="399.9" y="197.8" width="3.1" height="9.4" fill="#7fffd4"/>
<rect x="402" y="197.8" width="3.3" height="9.4" fill="#0000ff"/>
<rect x="404.3" y="197.8" width="5.4" height="9.4" fill="#ffffff"/>
<rect x="408.7" y="197.8" width="3.4" height="9.4" fill="#ff0000"/>
<rect x="411.1" y="197.8" width="3" height="9.4" fill="#7fffd4"/>
<rect x="413.1" y="197.8" width="3.3" height="9.4" fill="#00c0c0"/>
<rect x="415.4" y="197.8" width="3.3" height="9.4" fill="#ffffff"/>
<rect x="417.7" y="197.8" width="3.4" height="9.4" fill="#0000ff"/>
<rect x="420.1" y="197.8" width="3.2" height="9.4" fill="#ffd000"/>
<rect x="422.3" y="197.8" width="3.2" height="9.4" fill="#ffff00"/>
<rect x="424.5" y="197.8" width="3.2" height="9.4" fill="#c4c400"/>
<rect x="426.7" y="197.8" width="3.1" height="9.4" fill="#ffffff"/>
<rect x="428.8" y="197.8" width="3.2" height="9.4" fill="#ffd000"/>
<rect x="431" y="197.8" width="3.2" height="9.4" fill="#ffffff"/>
<rect x="433.2" y="197.8" width="3.2" height="9.4" fill="#008000"/>
<rect x="435.4" y="197.8" width="3.5" height="9.4" fill="#ffffff"/>
<rect x="437.9" y="197.8" width="3.2" height="9.4" fill="#008000"/>
<rect x="440.1" y="197.8" width="2.9" height="9.4" fill="#00c0c0"/>
<rect x="442" y="197.8" width="3.3" height="9.4" fill="#4169e1"/>
<rect x="444.3" y="197.8" width="3.5" height="9.4" fill="#008000"/>
<rect x="446.8" y="197.8" width="3" height="9.4" fill="#7fffd4"/>
<rect x="448.8" y="197.8" width="3.2" height="9.4" fill="#c000c0"/>
<rect x="451" y="197.8" width="3.3" height="9.4" fill="#ffff00"/>
<rect x="453.3" y="197.8" width="3.2" height="9.4" fill="#4169e1"/>
<rect x="455.5" y="197.8" width="3.2" height="9.4" fill="#ffd000"/>
<rect x="457.7" y="197.8" width="3.2" height="9.4" fill="#6a5acd"/>
<rect x="459.9" y="197.8" width="3.2" height="9.4" fill="#00c0c0"/>
<rect x="462.1" y="197.8" width="3.2" height="9.4" fill="#ffffff"/>
<rect x="464.3" y="197.8" width="3.4" height="9.4" fill="#7fffd4"/>
<rect x="466.7" y="197.8" width="3.1" height="9.4" fill="#000000"/>
<rect x="468.8" y="197.8" width="3.3" height="9.4" fill="#ffd000"/>
<rect x="471.1" y="197.8" width="3.2" height="9.4" fill="#00c0c0"/>
<rect x="473.3" y="197.8" width="3.2" height="9.4" fill="#6a5acd"/>
<rect x="475.5" y="197.8" width="3.3" height="9.4" fill="#008000"/>
<rect x="477.8" y="197.8" width="3.2" height="9.4" fill="#c000c0"/>
<rect x="480" y="197.8" width="3.2" height="9.4" fill="#000000"/>
<rect x="482.2" y="197.8" width="3.4" height="9.4" fill="#ffff00"/>
<rect x="484.6" y="197.8" width="3.3" height="9.4" fill="#ffffff"/>
<rect x="486.9" y="197.8" width="2.9" height="9.4" fill="#c4c400"/>
<rect x="488.8" y="197.8" width="3.2" height="9.4" fill="#ffd000"/>
<rect x="491" y="197.8" width="3.3" height="9.4" fill="#008000"/>
<rect x="493.3" y="197.8" width="3.2" height="9.4" fill="#000000"/>
<rect x="495.5" y="197.8" width="3.2" height="9.4" fill="#000080"/>
<rect x="497.7" y="197.8" width="3.3" height="9.4" fill="#0000ff"/>
<rect x="500" y="197.8" width="3.2" height="9.4" fill="#ffffff"/>
<rect x="502.2" y="197.8" width="3.2" height="9.4" fill="#4169e1"/>
<rect x="504.4" y="197.8" width="3.3" height="9.4" fill="#ffffff"/>
<rect x="506.7" y="197.8" width="3.2" height="9.4" fill="#4169e1"/>
<rect x="508.9" y="197.8" width="3.2" height="9.4" fill="#00c0c0"/>
<rect x="511.1" y="197.8" width="3.2" height="9.4" fill="#ff0000"/>
<rect x="513.3" y="197.8" width="3.1" height="9.4" fill="#4169e1"/>
<rect x="515.4" y="197.8" width="3.4" height="9.4" fill="#008000"/>
<rect x="517.8" y="197.8" width="3.2" height="9.4" fill="#000000"/>
<rect x="520" y="197.8" width="3.2" height="9.4" fill="#000080"/>
<rect x="522.2" y="197.8" width="3.3" height="9.4" fill="#c000c0"/>
<rect x="524.5" y="197.8" width="3.2" height="9.4" fill="#c4c400"/>
<rect x="526.7" y="197.8" width="3.1" height="9.4" fill="#c000c0"/>
<rect x="528.8" y="197.8" width="3.2" height="9.4" fill="#c4c400"/>
<rect x="531" y="197.8" width="3.2" height="9.4" fill="#ff0000"/>
<rect x="533.2" y="197.8" width="3.4" height="9.4" fill="#ffffff"/>
<rect x="535.6" y="197.8" width="3.2" height="9.4" fill="#c4c400"/>
<rect x="537.8" y="197.8" width="3.2" height="9.4" fill="#000080"/>
<rect x="540" y="197.8" width="3.2" height="9.4" fill="#000000"/>
<rect x="542.2" y="197.8" width="3.1" height="9.4" fill="#4169e1"/>
<rect x="544.3" y="197.8" width="3.2" height="9.4" fill="#c4c400"/>
<rect x="546.5" y="197.8" width="3.2" height="9.4" fill="#ff0000"/>
<rect x="548.7" y="197.8" width="5.7" height="9.4" fill="#0000ff"/>
<rect x="553.4" y="197.8" width="3.2" height="9.4" fill="#6a5acd"/>
<rect x="555.6" y="197.8" width="3.1" height="9.4" fill="#ff0000"/>
<rect x="557.8" y="197.8" width="3.4" height="9.4" fill="#00c0c0"/>
<rect x="560.1" y="197.8" width="3" height="9.4" fill="#ffffff"/>
<rect x="562.1" y="197.8" width="3.5" height="9.4" fill="#ffff00"/>
<rect x="564.6" y="197.8" width="3" height="9.4" fill="#000000"/>
<rect x="566.6" y="197.8" width="3.2" height="9.4" fill="#6a5acd"/>
<rect x="568.8" y="197.8" width="3.2" height="9.4" fill="#0000ff"/>
<rect x="571" y="197.8" width="3.2" height="9.4" fill="#c000c0"/>
<rect x="573.2" y="197.8" width="3.4" height="9.4" fill="#008000"/>
<rect x="575.6" y="197.8" width="3.2" height="9.4" fill="#000080"/>
<rect x="577.8" y="197.8" width="3.2" height="9.4" fill="#ffffff"/>
<rect x="580" y="197.8" width="3.2" height="9.4" fill="#ffd000"/>
<rect x="582.2" y="197.8" width="3.2" height="9.4" fill="#ffff00"/>
<rect x="584.4" y="197.8" width="3.2" height="9.4" fill="#6a5acd"/>
<rect x="586.6" y="197.8" width="3.4" height="9.4" fill="#7fffd4"/>
<rect x="589" y="197.8" width="3.2" height="9.4" fill="#ffd000"/>
<rect x="591.2" y="197.8" width="3.1" height="9.4" fill="#000080"/>
<rect x="593.3" y="197.8" width="3.4" height="9.4" fill="#00c0c0"/>
<rect x="595.7" y="197.8" width="3.3" height="9.4" fill="#ffffff"/>
<rect x="598" y="197.8" width="3.2" height="9.4" fill="#4169e1"/>
<rect x="600.2" y="197.8" width="3.2" height="9.4" fill="#00c0c0"/>
<rect x="602.4" y="197.8" width="3.2" height="9.4" fill="#000000"/>
<rect x="604.6" y="197.8" width="3.1" height="9.4" fill="#ff0000"/>
<rect x="606.7" y="197.8" width="3.2" height="9.4" fill="#0000ff"/>
<rect x="608.9" y="197.8" width="3.2" height="9.4" fill="#008000"/>
<rect x="611.1" y="197.8" width="3.1" height="9.4" fill="#000000"/>
<rect x="613.2" y="197.8" width="3.5" height="9.4" fill="#ffffff"/>
<rect x="615.7" y="197.8" width="3.4" height="9.4" fill="#ffd000"/>
<rect x="618.1" y="197.8" width="3" height="9.4" fill="#c4c400"/>
<rect x="620.1" y="197.8" width="3.1" height="9.4" fill="#000080"/>
<rect x="622.2" y="197.8" width="3.2" height="9.4" fill="#ff0000"/>
<rect x="624.4" y="197.8" width="3.2" height="9.4" fill="#7fffd4"/>
<rect x="626.6" y="197.8" width="3.2" height="9.4" fill="#c000c0"/>
<rect x="628.8" y="197.8" width="3.2" height="9.4" fill="#6a5acd"/>
<rect x="631" y="197.8" width="3.2" height="9.4" fill="#ffff00"/>
<rect x="633.2" y="197.8" width="3.4" height="9.4" fill="#ff0000"/>
<rect x="635.6" y="197.8" width="3.2" height="9.4" fill="#000080"/>
<rect x="637.8" y="197.8" width="3.2" height="9.4" fill="#ffff00"/>
<rect x="640" y="197.8" width="3" height="9.4" fill="#c4c400"/>
<rect x="642" y="197.8" width="3.3" height="9.4" fill="#ff0000"/>
<rect x="644.3" y="197.8" width="3.2" height="9.4" fill="#c4c400"/>
<rect x="646.5" y="197.8" width="3.4" height="9.4" fill="#c000c0"/>
<rect x="648.9" y="197.8" width="3.2" height="9.4" fill="#008000"/>
<rect x="651.1" y="197.8" width="3.2" height="9.4" fill="#ffff00"/>
<rect x="653.3" y="197.8" width="3.2" height="9.4" fill="#c000c0"/>
<rect x="655.5" y="197.8" width="3.4" height="9.4" fill="#0000ff"/>
<rect x="657.9" y="197.8" width="2" height="9.4" fill="#c000c0"/></g>
<g><rect x="106" y="217.5" width="264.8" height="79.5" fill="#fff"/>
<path d="M110.7 279.7H115.1M110.7 279.7V281.7M108.5 281.7H111.8M108.5 281.7V284.3M111.8 281.7V281.9M110.7 284.3V281.9H113V284.3M115.1 279.7V284.3M117.3 279.7H121.8M117.3 279.7V284.3M121.8 279.7V281.6M120.7 281.6H124M120.7 281.6V281.9M119.5 284.3V281.9H121.8V284.3M124 281.6V284.3M127.1 279.7H130.2M127.1 279.7V281.8M125.9 284.3V281.8H128.3V284.3M130.2 279.7V284.3M133.4 279.7H136.7M133.4 279.7V281.9M132.2 284.3V281.9H134.5V284.3M136.7 279.7V284.3M140.1 277.4H143.6M140.1 277.4V279.3M138.9 284.3V279.3H141.2V284.3M143.6 277.4V284.3M145.8 279.1H148.8M145.8 279.1V284.3M148.8 279.1V280.5M147.7 284.3V280.5H150V284.3M151.9 284.3V278.8H154.3V284.3M163.8 284.3V279.4H166.2V284.3M167.6 284.3V278.6H170V284.3M172.4 284.3V279.3H174.8V284.3M195 278.9H198.3M195 278.9V284.3M198.3 278.9V280.5M197.2 284.3V280.5H199.5V284.3M204.1 278.3H208.7M204.1 278.3V280.4M202.9 280.4H206.4M202.9 280.4V281.9M201.7 284.3V281.9H204V284.3M206.4 280.4V284.3M208.7 278.3V284.3M212.9 280.5H217M212.9 280.5V281.9M211.9 281.9H215M211.9 281.9V284.3M211.1 281.9H212.8M211.1 281.9V284.3M212.8 281.9V284.3M215 281.9V284.3M217 280.5V284.3M219.2 280.5H222.7M219.2 280.5V284.3M222.7 280.5V281.9M221.5 284.3V281.9H223.8V284.3M226.2 280.5H229.7M226.2 280.5V284.3M229.7 280.5V281.9M228.5 284.3V281.9H230.8V284.3M233.1 280.5H236.3M233.1 280.5V284.3M236.3 280.5V281.9M235.1 284.3V281.9H237.4V284.3M245.3 284.3V280.1H247.7V284.3M249.3 284.3V280H251.7V284.3M255.1 281H258.2M255.1 281V281.9M253.9 284.3V281.9H256.3V284.3M258.2 281V284.3M260.2 281H263.2M260.2 281V284.3M263.2 281V281.9M262 284.3V281.9H264.3V284.3M266.4 284.3V278.6H268.8V284.3M274.6 284.3V278.2H277V284.3M279.3 284.3V279.5H281.7V284.3M284.3 284.3V279.2H286.7V284.3M288.3 284.3V280.1H290.7V284.3M293.3 284.3V280.1H295.7V284.3M297.3 277.4H300.4M297.3 277.4V284.3M300.4 277.4V279.9M299.2 284.3V279.9H301.5V284.3M304.5 278.2H307.7M304.5 278.2V280.8M303.4 284.3V280.8H305.7V284.3M307.7 278.2V284.3M324.3 284.3V280.4H326.7V284.3M330.3 278.3H333.3M330.3 278.3V279.6M329.2 284.3V279.6H331.5V284.3M333.3 278.3V284.3M336.3 284.3V280.3H338.7V284.3M340.3 284.3V280.3H342.7V284.3M344.3 284.3V278.7H346.7V284.3M347.3 284.3V278.3H349.7V284.3M351.3 284.3V279.7H353.7V284.3M356.3 284.3V279.7H358.7V284.3M363.3 284.3V279.4H365.7V284.3M367.3 284.3V280.2H369.7V284.3" fill="none" stroke="#3c3c3c" stroke-width="0.85"/>
<path d="M153 219.5H251M153.5 219.5V260.5M250.5 219.5V241.5M136 260.5H170M136.5 260.5V265.5M169.5 260.5V263.5M123 265.5H150M123.5 265.5V274.5M149.5 265.5V269.5M116 274.5H132M116.5 274.5V278.5M131.5 274.5V278.5M110 278.5H123M127 278.5H135M144 269.5H155M144.5 269.5V276.5M154.5 269.5V272.5M140 276.5H149M152.6 272.5H157.6M157.1 272.5V275.5M155.5 275.5H159.7M164 263.5H176M164.5 263.5V273.5M175.5 263.5V268.5M161 273.5H167M166.5 273.5V277.5M164.5 277.5H169.3M173.1 268.5H177.7M177.2 268.5V272.5M175.3 272.5H179.8M179.3 272.5V275.5M177.1 275.5H182.1M181.6 275.5V278.5M179.7 278.5H184.2M205 241.5H296M205.5 241.5V258.5M295.5 241.5V250.5M186 258.5H224M186.5 258.5V284.3M223.5 258.5V266.5M201 266.5H247M201.5 266.5V273.5M246.5 266.5V270.5M190 273.5H213M190.5 273.5V278.5M212.5 273.5V275.5M188.5 278.5H193M200 275.5H226M200.5 275.5V277.5M225.5 275.5V277.5M195 277.5H206M218 277.5H233M218.5 277.5V279.5M232.5 277.5V279.5M214 279.5H223M228 279.5H237M241 270.5H251M241.5 270.5V279.5M250.5 270.5V274.5M240.3 279.5H243.3M246 274.5H254M253.5 274.5V277.5M250 277.5H259M258.5 277.5V280.5M255 280.5H263M273 250.5H318M273.5 250.5V265.5M317.5 250.5V254.5M268 265.5H279M268.5 265.5V272.5M278.5 265.5V268.5M267.1 272.5H270.6M274 268.5H283M274.5 268.5V274.5M282.5 268.5V274.5M272.2 274.5H276.3M280 274.5H286M304 254.5H332M304.5 254.5V266.5M331.5 254.5V260.5M296 266.5H313M296.5 266.5V274.5M312.5 266.5V273.5M291 274.5H303M291.5 274.5V279.5M302.5 274.5V276.5M289 279.5H295M298 276.5H307M310.3 273.5H313.8M317 260.5H345M317.5 260.5V271.5M344.5 260.5V267.5M315 271.5H321M320.5 271.5V275.5M318.5 275.5H322.7M333 267.5H356M333.5 267.5V272.5M355.5 267.5V270.5M328 272.5H340M328.5 272.5V277.5M339.5 272.5V274.5M325 277.5H332M337 274.5H342M347 270.5H364M347.5 270.5V275.5M363.5 270.5V272.5M345 275.5H351M350.5 275.5V277.5M348 277.5H355M354.5 277.5V278.5M352 278.5H358M360 272.5H367M360.5 272.5V284.3M366.5 272.5V276.5M364 276.5H369M110.5 278.5V279.7M122.5 278.5V279.7M127.5 278.5V279.7M134.5 278.5V279.7M140.5 276.5V277.4M148.5 276.5V279.1M153.1 272.5V278.8M156 275.5V284.3M159.2 275.5V284.3M161.5 273.5V284.3M165 277.5V279.4M168.8 277.5V278.6M173.6 268.5V279.3M175.8 272.5V284.3M177.6 275.5V284.3M180.2 278.5V284.3M183.7 278.5V284.3M189 278.5V284.3M192.5 278.5V284.3M195.5 277.5V278.9M205.5 277.5V278.3M214.5 279.5V280.5M222.5 279.5V280.5M228.5 279.5V280.5M236.5 279.5V280.5M240.8 279.5V284.3M242.8 279.5V284.3M246.5 274.5V280.1M250.5 277.5V280M255.5 280.5V281M262.5 280.5V281M267.6 272.5V278.6M270.1 272.5V284.3M272.7 274.5V284.3M275.8 274.5V278.2M280.5 274.5V279.5M285.5 274.5V279.2M289.5 279.5V280.1M294.5 279.5V280.1M298.5 276.5V277.4M306.5 276.5V278.2M310.8 273.5V284.3M313.3 273.5V284.3M315.5 271.5V284.3M319 275.5V284.3M322.2 275.5V284.3M325.5 277.5V280.4M331.5 277.5V278.3M337.5 274.5V280.3M341.5 274.5V280.3M345.5 275.5V278.7M348.5 277.5V278.3M352.5 278.5V279.7M357.5 278.5V279.7M364.5 276.5V279.4M368.5 276.5V280.2" fill="none" stroke="#303030" stroke-width="1"/>
<rect x="106.9" y="286.7" width="18.9" height="9.9" fill="#ff0000"/>
<rect x="124.8" y="286.7" width="2.9" height="9.9" fill="#c4c400"/>
<rect x="126.7" y="286.7" width="3.3" height="9.9" fill="#008000"/>
<rect x="129" y="286.7" width="3.3" height="9.9" fill="#c4c400"/>
<rect x="131.3" y="286.7" width="3.3" height="9.9" fill="#008000"/>
<rect x="133.6" y="286.7" width="3.3" height="9.9" fill="#c4c400"/>
<rect x="135.9" y="286.7" width="16.8" height="9.9" fill="#ff0000"/>
<rect x="151.7" y="286.7" width="7.8" height="9.9" fill="#0000ff"/>
<rect x="158.5" y="286.7" width="3.3" height="9.9" fill="#ff0000"/>
<rect x="160.8" y="286.7" width="14.5" height="9.9" fill="#c4c400"/>
<rect x="174.3" y="286.7" width="5.6" height="9.9" fill="#008000"/>
<rect x="178.9" y="286.7" width="3.2" height="9.9" fill="#ff0000"/>
<rect x="181.1" y="286.7" width="5.6" height="9.9" fill="#008000"/>
<rect x="185.7" y="286.7" width="3.1" height="9.9" fill="#c4c400"/>
<rect x="187.8" y="286.7" width="3.3" height="9.9" fill="#0000ff"/>
<rect x="190.1" y="286.7" width="5.5" height="9.9" fill="#ff0000"/>
<rect x="194.6" y="286.7" width="5.3" height="9.9" fill="#0000ff"/>
<rect x="198.9" y="286.7" width="3.3" height="9.9" fill="#ff0000"/>
<rect x="201.2" y="286.7" width="3.3" height="9.9" fill="#0000ff"/>
<rect x="203.5" y="286.7" width="3.5" height="9.9" fill="#ff0000"/>
<rect x="206" y="286.7" width="10" height="9.9" fill="#0000ff"/>
<rect x="215" y="286.7" width="3.2" height="9.9" fill="#008000"/>
<rect x="217.2" y="286.7" width="3.1" height="9.9" fill="#ff0000"/>
<rect x="219.3" y="286.7" width="3.5" height="9.9" fill="#008000"/>
<rect x="221.8" y="286.7" width="5.3" height="9.9" fill="#ff0000"/>
<rect x="226.1" y="286.7" width="5.6" height="9.9" fill="#0000ff"/>
<rect x="230.7" y="286.7" width="3.3" height="9.9" fill="#ff0000"/>
<rect x="233" y="286.7" width="3.3" height="9.9" fill="#0000ff"/>
<rect x="235.3" y="286.7" width="5.6" height="9.9" fill="#ff0000"/>
<rect x="239.9" y="286.7" width="5.2" height="9.9" fill="#c4c400"/>
<rect x="244.1" y="286.7" width="3.4" height="9.9" fill="#008000"/>
<rect x="246.5" y="286.7" width="3.4" height="9.9" fill="#0000ff"/>
<rect x="248.9" y="286.7" width="39" height="9.9" fill="#c4c400"/>
<rect x="286.9" y="286.7" width="28.2" height="9.9" fill="#ff0000"/>
<rect x="314.1" y="286.7" width="5.6" height="9.9" fill="#008000"/>
<rect x="318.7" y="286.7" width="19" height="9.9" fill="#ff0000"/>
<rect x="336.7" y="286.7" width="3.4" height="9.9" fill="#0000ff"/>
<rect x="339.1" y="286.7" width="21.3" height="9.9" fill="#ff0000"/>
<rect x="359.4" y="286.7" width="7.6" height="9.9" fill="#008000"/>
<rect x="366" y="286.7" width="3.1" height="9.9" fill="#ff0000"/>
<rect x="368.1" y="286.7" width="2.4" height="9.9" fill="#0000ff"/></g>
<g><rect x="399" y="217.5" width="261" height="77.5" fill="#fff"/>
<path d="M400.4 282.1V276.3H402.6V282.1M405.4 282.1V277.5H407.6V282.1M412.4 282.1V277.6H414.6V282.1M416.4 282.1V277.6H418.6V282.1M420.4 282.1V277.5H422.6V282.1M424.4 282.1V276.5H426.6V282.1M427.4 282.1V277.5H429.6V282.1M431.4 282.1V277.9H433.6V282.1M437.7 276.3H440.6M437.7 276.3V278.2M436.6 282.1V278.2H438.9V282.1M440.6 276.3V282.1M443.4 282.1V276.3H445.6V282.1M461.9 275.4H465M461.9 275.4V282.1M465 275.4V278.3M463.9 282.1V278.3H466.2V282.1M468.1 275.4H471.2M468.1 275.4V282.1M471.2 275.4V278.5M470 282.1V278.5H472.3V282.1M473.4 282.1V278H475.6V282.1M479.4 282.1V278H481.6V282.1M482.4 282.1V277.7H484.6V282.1M487.4 282.1V276.2H489.6V282.1M492.1 282.1V276H494.4V282.1M500.2 282.1V276.9H502.5V282.1M504.7 278.9H507.7M504.7 278.9V282.1M507.7 278.9V279.8M506.5 282.1V279.8H508.8V282.1M510.6 278.9H513.6M510.6 278.9V282.1M513.6 278.9V279.8M512.5 282.1V279.8H514.8V282.1M517.4 282.1V276.8H519.6V282.1M521.4 282.1V276.4H523.6V282.1M531.1 278.4H534.3M531.1 278.4V282.1M534.3 278.4V279.8M533.1 282.1V279.8H535.4V282.1M537.5 278.4H540.9M537.5 278.4V282.1M540.9 278.4V279.8M539.8 282.1V279.8H542.1V282.1M545.5 278.4H549M545.5 278.4V279.8M544.4 282.1V279.8H546.7V282.1M549 278.4V282.1M553.1 278.4H557.1M553.1 278.4V279.8M551.1 279.8H554.1M551.1 279.8V282.1M554.1 279.8V282.1M553.2 279.8H555M553.2 279.8V282.1M555 279.8V282.1M557.1 278.4V282.1M560.4 276.3H565M560.4 276.3V279.4M559.2 282.1V279.4H561.5V282.1M565 276.3V278M563.8 282.1V278H566.1V282.1M568.4 276.5H571.6M568.4 276.5V282.1M571.6 276.5V279.4M570.5 282.1V279.4H572.8V282.1M592.6 282.1V278H594.9V282.1M597.4 282.1V278H599.6V282.1M601.1 282.1V276.5H603.4V282.1M612.8 282.1V277.3H615.1V282.1M617.1 275.4H620.1M617.1 275.4V282.1M620.1 275.4V277M619 282.1V277H621.3V282.1M623.3 275.4H626.7M623.3 275.4V282.1M626.7 275.4V278.6M625.6 282.1V278.6H627.9V282.1M630.1 277.6H633.3M630.1 277.6V282.1M633.3 277.6V279.1M632.2 282.1V279.1H634.5V282.1M637.5 277.6H640.5M637.5 277.6V279.8M636.4 282.1V279.8H638.6V282.1M640.5 277.6V282.1M642.6 277.6H646.9M642.6 277.6V282.1M646.9 277.6V279.8M644.8 279.8H648M644.8 279.8V282.1M648 279.8V282.1M647 279.8H649M647 279.8V282.1M649 279.8V282.1M652.3 277.6H656.7M652.3 277.6V279.2M651.2 282.1V279.2H653.5V282.1M656.7 277.6V279.8M655.5 282.1V279.8H657.8V282.1" fill="none" stroke="#3c3c3c" stroke-width="0.85"/>
<path d="M517 218.5H614M517.5 218.5V240.5M613.5 218.5V258.5M597 258.5H631M597.5 258.5V261.5M630.5 258.5V263.5M617 263.5H644M617.5 263.5V267.5M643.5 263.5V272.5M635 272.5H651M635.5 272.5V276.5M650.5 272.5V276.5M644 276.5H657M632 276.5H639M612 267.5H623M612.5 267.5V270.5M622.5 267.5V274.5M618 274.5H627M609.5 270.5H614.4M610 270.5V273.5M607.4 273.5H611.6M591 261.5H604M591.5 261.5V266.5M603.5 261.5V271.5M601 271.5H606M601.5 271.5V274.5M598 274.5H602.7M589.7 266.5H594.3M590.2 266.5V270.5M587.7 270.5H592.1M588.2 270.5V273.5M585.4 273.5H590.3M585.9 273.5V276.5M583.3 276.5H587.8M473 240.5H563M473.5 240.5V249.5M562.5 240.5V256.5M544 256.5H582M544.5 256.5V264.5M581.5 256.5V282.1M522 264.5H567M522.5 264.5V268.5M566.5 264.5V271.5M555 271.5H578M555.5 271.5V273.5M577.5 271.5V276.5M574.7 276.5H579.1M542 273.5H568M542.5 273.5V275.5M567.5 273.5V275.5M562 275.5H573M536 275.5H550M536.5 275.5V277.5M549.5 275.5V277.5M546 277.5H555M532 277.5H541M518 268.5H527M518.5 268.5V272.5M526.5 268.5V276.5M525.2 276.5H528.2M514 272.5H523M514.5 272.5V275.5M510 275.5H519M510.5 275.5V277.5M506 277.5H514M452 249.5H496M452.5 249.5V252.5M495.5 249.5V263.5M490 263.5H501M490.5 263.5V266.5M500.5 263.5V270.5M498.4 270.5H501.8M486 266.5H495M486.5 266.5V272.5M494.5 266.5V272.5M492.8 272.5H496.8M483 272.5H489M438 252.5H466M438.5 252.5V258.5M465.5 252.5V264.5M457 264.5H473M457.5 264.5V271.5M472.5 264.5V272.5M467 272.5H478M467.5 272.5V274.5M477.5 272.5V277.5M474 277.5H481M462 274.5H472M455.9 271.5H459.4M425 258.5H453M425.5 258.5V265.5M452.5 258.5V269.5M449 269.5H455M449.5 269.5V273.5M447.1 273.5H451.3M414 265.5H437M414.5 265.5V268.5M436.5 265.5V270.5M430 270.5H442M430.5 270.5V272.5M441.5 270.5V275.5M438 275.5H445M428 272.5H433M407 268.5H423M407.5 268.5V270.5M422.5 268.5V273.5M419 273.5H426M419.5 273.5V274.5M416 274.5H422M416.5 274.5V276.5M413 276.5H418M404 270.5H410M404.5 270.5V274.5M409.5 270.5V282.1M401 274.5H407M401.5 274.5V276.3M406.5 274.5V277.5M413.5 276.5V277.6M417.5 276.5V277.6M421.5 274.5V277.5M425.5 273.5V276.5M428.5 272.5V277.5M432.5 272.5V277.9M438.5 275.5V276.3M444.5 275.5V276.3M447.6 273.5V282.1M450.8 273.5V282.1M454.5 269.5V282.1M456.4 271.5V282.1M458.9 271.5V282.1M462.5 274.5V275.4M471.5 274.5V275.4M474.5 277.5V278M480.5 277.5V278M483.5 272.5V277.7M488.5 272.5V276.2M493.3 272.5V276M496.3 272.5V282.1M498.9 270.5V282.1M501.3 270.5V276.9M506.5 277.5V278.9M513.5 277.5V278.9M518.5 275.5V276.8M522.5 272.5V276.4M525.7 276.5V282.1M527.7 276.5V282.1M532.5 277.5V278.4M540.5 277.5V278.4M546.5 277.5V278.4M554.5 277.5V278.4M562.5 275.5V276.3M572.5 275.5V276.5M575.2 276.5V282.1M578.6 276.5V282.1M583.8 276.5V282.1M587.3 276.5V282.1M589.8 273.5V282.1M591.6 270.5V282.1M593.8 266.5V278M598.5 274.5V278M602.2 274.5V276.5M605.5 271.5V282.1M607.9 273.5V282.1M611.1 273.5V282.1M613.9 270.5V277.3M618.5 274.5V275.4M626.5 274.5V275.4M632.5 276.5V277.6M638.5 276.5V277.6M644.5 276.5V277.6M656.5 276.5V277.6" fill="none" stroke="#303030" stroke-width="1"/>
<rect x="400.4" y="284.3" width="3.2" height="10" fill="#7fffd4"/>
<rect x="402.6" y="284.3" width="3.2" height="10" fill="#0000ff"/>
<rect x="404.8" y="284.3" width="5.3" height="10" fill="#ffffff"/>
<rect x="409.1" y="284.3" width="3.2" height="10" fill="#ff0000"/>
<rect x="411.3" y="284.3" width="3.2" height="10" fill="#7fffd4"/>
<rect x="413.5" y="284.3" width="3.2" height="10" fill="#00c0c0"/>
<rect x="415.7" y="284.3" width="3.4" height="10" fill="#ffffff"/>
<rect x="418.1" y="284.3" width="3" height="10" fill="#0000ff"/>
<rect x="420.1" y="284.3" width="3.4" height="10" fill="#ffffff"/>
<rect x="422.5" y="284.3" width="3.2" height="10" fill="#008000"/>
<rect x="424.7" y="284.3" width="3.1" height="10" fill="#ffd000"/>
<rect x="426.8" y="284.3" width="3.2" height="10" fill="#008000"/>
<rect x="429" y="284.3" width="3.2" height="10" fill="#ffffff"/>
<rect x="431.2" y="284.3" width="3.3" height="10" fill="#00c0c0"/>
<rect x="433.5" y="284.3" width="3.4" height="10" fill="#4169e1"/>
<rect x="435.9" y="284.3" width="3.1" height="10" fill="#7fffd4"/>
<rect x="438" y="284.3" width="3.2" height="10" fill="#008000"/>
<rect x="440.2" y="284.3" width="3" height="10" fill="#c000c0"/>
<rect x="442.2" y="284.3" width="3.4" height="10" fill="#ffff00"/>
<rect x="444.6" y="284.3" width="3.2" height="10" fill="#4169e1"/>
<rect x="446.8" y="284.3" width="3.2" height="10" fill="#ffff00"/>
<rect x="449" y="284.3" width="3.2" height="10" fill="#c4c400"/>
<rect x="451.2" y="284.3" width="3.1" height="10" fill="#ffffff"/>
<rect x="453.3" y="284.3" width="3.6" height="10" fill="#ffd000"/>
<rect x="455.9" y="284.3" width="3.2" height="10" fill="#c000c0"/>
<rect x="458.1" y="284.3" width="3.2" height="10" fill="#000000"/>
<rect x="460.3" y="284.3" width="3.2" height="10" fill="#ffd000"/>
<rect x="462.5" y="284.3" width="3.2" height="10" fill="#6a5acd"/>
<rect x="464.7" y="284.3" width="3.2" height="10" fill="#00c0c0"/>
<rect x="466.9" y="284.3" width="3.2" height="10" fill="#ffffff"/>
<rect x="469.1" y="284.3" width="3.2" height="10" fill="#7fffd4"/>
<rect x="471.3" y="284.3" width="3.2" height="10" fill="#000000"/>
<rect x="473.5" y="284.3" width="3.1" height="10" fill="#ffd000"/>
<rect x="475.6" y="284.3" width="3.4" height="10" fill="#00c0c0"/>
<rect x="478" y="284.3" width="3.2" height="10" fill="#6a5acd"/>
<rect x="480.2" y="284.3" width="3.2" height="10" fill="#008000"/>
<rect x="482.4" y="284.3" width="3.2" height="10" fill="#ffd000"/>
<rect x="484.6" y="284.3" width="3.2" height="10" fill="#ffffff"/>
<rect x="486.8" y="284.3" width="3.2" height="10" fill="#ffff00"/>
<rect x="489" y="284.3" width="3.2" height="10" fill="#c4c400"/>
<rect x="491.2" y="284.3" width="3.1" height="10" fill="#000000"/>
<rect x="493.3" y="284.3" width="3.2" height="10" fill="#008000"/>
<rect x="495.5" y="284.3" width="3.2" height="10" fill="#000080"/>
<rect x="497.7" y="284.3" width="3.5" height="10" fill="#ffffff"/>
<rect x="500.2" y="284.3" width="3.2" height="10" fill="#4169e1"/>
<rect x="502.4" y="284.3" width="3.2" height="10" fill="#00c0c0"/>
<rect x="504.6" y="284.3" width="3.1" height="10" fill="#000000"/>
<rect x="506.7" y="284.3" width="3.2" height="10" fill="#ffffff"/>
<rect x="508.9" y="284.3" width="3.2" height="10" fill="#4169e1"/>
<rect x="511.1" y="284.3" width="3.2" height="10" fill="#ff0000"/>
<rect x="513.3" y="284.3" width="3.1" height="10" fill="#008000"/>
<rect x="515.4" y="284.3" width="3.4" height="10" fill="#4169e1"/>
<rect x="517.8" y="284.3" width="3.2" height="10" fill="#000080"/>
<rect x="520" y="284.3" width="3.2" height="10" fill="#c000c0"/>
<rect x="522.2" y="284.3" width="3.3" height="10" fill="#c4c400"/>
<rect x="524.5" y="284.3" width="3.2" height="10" fill="#c000c0"/>
<rect x="526.7" y="284.3" width="5.3" height="10" fill="#c4c400"/>
<rect x="531" y="284.3" width="3.2" height="10" fill="#ffffff"/>
<rect x="533.2" y="284.3" width="3.4" height="10" fill="#000080"/>
<rect x="535.6" y="284.3" width="3.2" height="10" fill="#000000"/>
<rect x="537.8" y="284.3" width="3.2" height="10" fill="#4169e1"/>
<rect x="540" y="284.3" width="3.2" height="10" fill="#c4c400"/>
<rect x="542.2" y="284.3" width="3.1" height="10" fill="#ff0000"/>
<rect x="544.3" y="284.3" width="5.7" height="10" fill="#0000ff"/>
<rect x="549" y="284.3" width="3.2" height="10" fill="#ff0000"/>
<rect x="551.2" y="284.3" width="3.2" height="10" fill="#6a5acd"/>
<rect x="553.4" y="284.3" width="3.2" height="10" fill="#ff0000"/>
<rect x="555.6" y="284.3" width="3.1" height="10" fill="#00c0c0"/>
<rect x="557.8" y="284.3" width="3.4" height="10" fill="#ffffff"/>
<rect x="560.1" y="284.3" width="3.2" height="10" fill="#c000c0"/>
<rect x="562.3" y="284.3" width="3.2" height="10" fill="#6a5acd"/>
<rect x="564.5" y="284.3" width="3" height="10" fill="#0000ff"/>
<rect x="566.5" y="284.3" width="3.3" height="10" fill="#ffff00"/>
<rect x="568.8" y="284.3" width="3.2" height="10" fill="#000000"/>
<rect x="571" y="284.3" width="3.2" height="10" fill="#008000"/>
<rect x="573.2" y="284.3" width="3.2" height="10" fill="#000080"/>
<rect x="575.4" y="284.3" width="3.2" height="10" fill="#ffffff"/>
<rect x="577.6" y="284.3" width="3.2" height="10" fill="#ffd000"/>
<rect x="579.8" y="284.3" width="3.2" height="10" fill="#ffff00"/>
<rect x="582" y="284.3" width="3.3" height="10" fill="#008000"/>
<rect x="584.3" y="284.3" width="3.2" height="10" fill="#ffff00"/>
<rect x="586.5" y="284.3" width="3.2" height="10" fill="#c000c0"/>
<rect x="588.7" y="284.3" width="3.3" height="10" fill="#0000ff"/>
<rect x="591" y="284.3" width="3.2" height="10" fill="#c000c0"/>
<rect x="593.2" y="284.3" width="3.2" height="10" fill="#0000ff"/>
<rect x="595.4" y="284.3" width="3.1" height="10" fill="#6a5acd"/>
<rect x="597.5" y="284.3" width="3.2" height="10" fill="#7fffd4"/>
<rect x="599.7" y="284.3" width="3.2" height="10" fill="#ffd000"/>
<rect x="601.9" y="284.3" width="3.2" height="10" fill="#000080"/>
<rect x="604.1" y="284.3" width="3.2" height="10" fill="#00c0c0"/>
<rect x="606.3" y="284.3" width="3.4" height="10" fill="#c000c0"/>
<rect x="608.7" y="284.3" width="3.2" height="10" fill="#6a5acd"/>
<rect x="610.9" y="284.3" width="3.1" height="10" fill="#ffff00"/>
<rect x="613" y="284.3" width="5.4" height="10" fill="#ff0000"/>
<rect x="617.4" y="284.3" width="3.2" height="10" fill="#c4c400"/>
<rect x="619.6" y="284.3" width="3.2" height="10" fill="#c000c0"/>
<rect x="621.8" y="284.3" width="3.2" height="10" fill="#000080"/>
<rect x="624" y="284.3" width="3.4" height="10" fill="#ffff00"/>
<rect x="626.4" y="284.3" width="3.2" height="10" fill="#c4c400"/>
<rect x="628.6" y="284.3" width="3.2" height="10" fill="#ffffff"/>
<rect x="630.8" y="284.3" width="3.2" height="10" fill="#4169e1"/>
<rect x="633" y="284.3" width="3.1" height="10" fill="#00c0c0"/>
<rect x="635.1" y="284.3" width="3.2" height="10" fill="#000000"/>
<rect x="637.3" y="284.3" width="3.2" height="10" fill="#ff0000"/>
<rect x="639.5" y="284.3" width="3.2" height="10" fill="#0000ff"/>
<rect x="641.7" y="284.3" width="3.2" height="10" fill="#ff0000"/>
<rect x="643.9" y="284.3" width="3.2" height="10" fill="#7fffd4"/>
<rect x="646.1" y="284.3" width="3.6" height="10" fill="#008000"/>
<rect x="648.7" y="284.3" width="3.2" height="10" fill="#000000"/>
<rect x="650.9" y="284.3" width="3.2" height="10" fill="#ffffff"/>
<rect x="653.1" y="284.3" width="3.2" height="10" fill="#ffd000"/>
<rect x="655.3" y="284.3" width="3.2" height="10" fill="#c4c400"/>
<rect x="657.5" y="284.3" width="2.2" height="10" fill="#000080"/></g>
<g><rect x="106" y="308.9" width="264.8" height="80.6" fill="#fff"/>
<path d="M112.4 377.6V372.1H114.8V377.6M119.1 370.2H122.8M119.1 370.2V371.5M118 377.6V371.5H120.3V377.6M122.8 370.2V377.6M125.2 370.3H129M125.2 370.3V377.6M129 370.3V372.5M127.8 377.6V372.5H130.1V377.6M133.5 377.6V372.7H135.9V377.6M137.3 377.6V372H139.7V377.6M143.5 372.8H148.4M143.5 372.8V377.6M148.4 372.8V375.2M147.2 375.2H150.9M147.2 375.2V377.6M145.9 375.2H148.5M145.9 375.2V377.6M148.5 375.2V377.6M150.9 375.2V377.6M154.2 372.8H158.4M154.2 372.8V374.2M153.1 377.6V374.2H155.4V377.6M158.4 372.8V374.2M157.3 377.6V374.2H159.6V377.6M161.5 372.8H164.5M161.5 372.8V377.6M164.5 372.8V375.1M163.3 377.6V375.1H165.6V377.6M168.6 372.8H171.7M168.6 372.8V374.3M167.4 377.6V374.3H169.7V377.6M171.7 372.8V377.6M174.3 377.6V373.2H176.7V377.6M177.3 377.6V373.1H179.7V377.6M181.3 377.6V373H183.7V377.6M194.9 377.6V372.4H197.3V377.6M200.3 377.6V373.7H202.7V377.6M206.3 377.6V373.4H208.7V377.6M210.3 377.6V373.7H212.7V377.6M214.6 377.6V373.4H216.9V377.6M220.3 377.6V372.4H222.7V377.6M224.3 377.6V372.4H226.7V377.6M231 373.7H234.8M231 373.7V375.2M229.9 377.6V375.2H232.2V377.6M234.8 373.7V377.6M237.3 373.7H241.1M237.3 373.7V377.6M241.1 373.7V375.2M239.9 377.6V375.2H242.2V377.6M245.3 377.6V373.3H247.7V377.6M251.3 377.6V373.3H253.7V377.6M264.3 377.6V373.7H266.7V377.6M269.3 377.6V373.7H271.7V377.6M273.5 377.6V372.1H275.9V377.6M288.4 377.6V372.5H290.8V377.6M292.3 377.6V373.5H294.7V377.6M297.3 377.6V373.5H299.7V377.6M302.3 377.6V372.5H304.7V377.6M307.3 377.6V372.1H309.7V377.6M311.7 377.6V372.6H314.1V377.6M321.3 377.6V372.1H323.7V377.6M326.3 377.6V373.3H328.7V377.6M332.3 377.6V373.3H334.7V377.6" fill="none" stroke="#3c3c3c" stroke-width="0.85"/>
<path d="M144 312.5H255M144.5 312.5V351.5M254.5 312.5V335.5M119 351.5H169M119.5 351.5V358.5M168.5 351.5V356.5M109 358.5H131M109.5 358.5V365.5M130.5 358.5V362.5M107.4 365.5H111.5M111 365.5V369.5M109.6 369.5H114.1M123 362.5H137M123.5 362.5V369.5M136.5 362.5V366.5M119 369.5H129M134.2 366.5H139M159 356.5H178M159.5 356.5V367.5M177.5 356.5V365.5M152 367.5H167M152.5 367.5V371.5M166.5 367.5V371.5M146 371.5H159M162 371.5H171M175 365.5H181M180.5 365.5V369.5M178 369.5H183M204 335.5H305M204.5 335.5V350.5M304.5 335.5V343.5M186 350.5H223M186.5 350.5V377.6M222.5 350.5V358.5M196 358.5H248M196.5 358.5V363.5M247.5 358.5V362.5M189 363.5H204M189.5 363.5V371.5M203.5 363.5V366.5M188.5 371.5H191.6M194 366.5H213M194.5 366.5V371.5M212.5 366.5V367.5M192.7 371.5H196.6M207 367.5H218M217.5 367.5V371.5M201 372.5H212M215.2 371.5H218.5M233 362.5H262M233.5 362.5V368.5M261.5 362.5V367.5M223 368.5H243M223.5 368.5V371.5M242.5 368.5V370.5M221 371.5H226M236 370.5H249M236.5 370.5V372.5M248.5 370.5V372.5M231 372.5H241M246 372.5H253M257 367.5H266M257.5 367.5V373.5M265.5 367.5V370.5M256.1 373.5H259.2M261 370.5H269M268.5 370.5V372.5M265 372.5H271M280 343.5H328M280.5 343.5V358.5M327.5 343.5V350.5M276 358.5H285M276.5 358.5V365.5M284.5 358.5V364.5M274.2 365.5H278.2M282 364.5H288M282.5 364.5V369.5M287.5 364.5V367.5M280.9 369.5H284M285.1 367.5H290.1M307 350.5H348M307.5 350.5V359.5M347.5 350.5V351.5M301 359.5H315M301.5 359.5V367.5M314.5 359.5V366.5M296 367.5H306M296.5 367.5V371.5M305.5 367.5V369.5M293 371.5H299M303 369.5H309M312.4 366.5H316.1M333 351.5H363M333.5 351.5V359.5M362.5 351.5V357.5M324 359.5H343M324.5 359.5V365.5M342.5 359.5V364.5M318 365.5H332M318.5 365.5V367.5M331.5 365.5V366.5M316.8 367.5H319.9M325 366.5H338M325.5 366.5V369.5M337.5 366.5V368.5M322 369.5H330M329.5 369.5V372.5M327 372.5H334M335.2 368.5H338.5M340 364.5H346M340.5 364.5V377.6M345.5 364.5V368.5M342 368.5H349M348.5 368.5V370.5M345 370.5H352M351.5 370.5V371.5M348 371.5H354M353.5 371.5V372.5M351.5 372.5H356M359 357.5H365M359.5 357.5V365.5M364.5 357.5V364.5M357.5 365.5H361.1M362 364.5H368M367.5 364.5V367.5M365.5 367.5H369.5M107.9 365.5V377.6M110.1 369.5V377.6M113.6 369.5V372.1M119.5 369.5V370.2M128.5 369.5V370.3M134.7 366.5V372.7M138.5 366.5V372M146.5 371.5V372.8M158.5 371.5V372.8M162.5 371.5V372.8M170.5 371.5V372.8M175.5 365.5V373.2M178.5 369.5V373.1M182.5 369.5V373M189 371.5V377.6M191.1 371.5V377.6M193.2 371.5V377.6M196.1 371.5V372.4M201.5 372.5V373.7M207.5 367.5V373.4M211.5 372.5V373.7M215.8 371.5V373.4M218 371.5V377.6M221.5 371.5V372.4M225.5 371.5V372.4M231.5 372.5V373.7M240.5 372.5V373.7M246.5 372.5V373.3M252.5 372.5V373.3M256.6 373.5V377.6M258.7 373.5V377.6M261.5 370.5V377.6M265.5 372.5V373.7M270.5 372.5V373.7M274.7 365.5V372.1M277.7 365.5V377.6M281.4 369.5V377.6M283.5 369.5V377.6M285.6 367.5V377.6M289.6 367.5V372.5M293.5 371.5V373.5M298.5 371.5V373.5M303.5 369.5V372.5M308.5 369.5V372.1M312.9 366.5V372.6M315.6 366.5V377.6M317.3 367.5V377.6M319.4 367.5V377.6M322.5 369.5V372.1M327.5 372.5V373.3M333.5 372.5V373.3M335.7 368.5V377.6M338 368.5V377.6M342.5 368.5V377.6M345.5 370.5V377.6M348.5 371.5V377.6M352 372.5V377.6M355.5 372.5V377.6M358 365.5V377.6M360.6 365.5V377.6M362.5 364.5V377.6M366 367.5V377.6M369 367.5V377.6" fill="none" stroke="#303030" stroke-width="1"/>
<rect x="106" y="379" width="5.6" height="10" fill="#008000"/>
<rect x="110.6" y="379" width="3.3" height="10" fill="#ff0000"/>
<rect x="112.9" y="379" width="5.2" height="10" fill="#008000"/>
<rect x="117.1" y="379" width="17.1" height="10" fill="#ff0000"/>
<rect x="133.2" y="379" width="7.7" height="10" fill="#0000ff"/>
<rect x="139.9" y="379" width="21.3" height="10" fill="#ff0000"/>
<rect x="160.2" y="379" width="3.3" height="10" fill="#c4c400"/>
<rect x="162.5" y="379" width="3.3" height="10" fill="#008000"/>
<rect x="164.8" y="379" width="3.3" height="10" fill="#c4c400"/>
<rect x="167.1" y="379" width="3.2" height="10" fill="#008000"/>
<rect x="169.3" y="379" width="3.4" height="10" fill="#c4c400"/>
<rect x="171.7" y="379" width="3.2" height="10" fill="#ff0000"/>
<rect x="173.9" y="379" width="21.3" height="10" fill="#c4c400"/>
<rect x="194.2" y="379" width="5.6" height="10" fill="#008000"/>
<rect x="198.8" y="379" width="16.9" height="10" fill="#c4c400"/>
<rect x="214.7" y="379" width="3.2" height="10" fill="#008000"/>
<rect x="216.9" y="379" width="7.9" height="10" fill="#0000ff"/>
<rect x="223.8" y="379" width="5.3" height="10" fill="#ff0000"/>
<rect x="228.1" y="379" width="3.2" height="10" fill="#0000ff"/>
<rect x="230.3" y="379" width="3.1" height="10" fill="#ff0000"/>
<rect x="232.4" y="379" width="3.5" height="10" fill="#0000ff"/>
<rect x="234.9" y="379" width="3.1" height="10" fill="#ff0000"/>
<rect x="237" y="379" width="12.5" height="10" fill="#0000ff"/>
<rect x="248.5" y="379" width="5.6" height="10" fill="#ff0000"/>
<rect x="253.1" y="379" width="3.2" height="10" fill="#0000ff"/>
<rect x="255.3" y="379" width="5.3" height="10" fill="#008000"/>
<rect x="259.6" y="379" width="3.4" height="10" fill="#ff0000"/>
<rect x="262" y="379" width="3.2" height="10" fill="#0000ff"/>
<rect x="264.2" y="379" width="10" height="10" fill="#ff0000"/>
<rect x="273.2" y="379" width="19.2" height="10" fill="#c4c400"/>
<rect x="291.4" y="379" width="25.9" height="10" fill="#ff0000"/>
<rect x="316.3" y="379" width="5.6" height="10" fill="#0000ff"/>
<rect x="320.9" y="379" width="19" height="10" fill="#ff0000"/>
<rect x="338.9" y="379" width="3.2" height="10" fill="#008000"/>
<rect x="341.1" y="379" width="16.9" height="10" fill="#ff0000"/>
<rect x="357" y="379" width="5.3" height="10" fill="#c4c400"/>
<rect x="361.3" y="379" width="5.7" height="10" fill="#008000"/>
<rect x="366" y="379" width="4.5" height="10" fill="#ff0000"/></g>
<g><rect x="399" y="308.9" width="261" height="80.3" fill="#fff"/>
<path d="M435.4 377.8V373.6H437.6V377.8M441.4 377.8V373.6H443.6V377.8M445.4 377.8V371.7H447.6V377.8M454.7 377.8V372.4H457V377.8M459.4 377.8V372.8H461.6V377.8M463.4 377.8V373.2H465.6V377.8M468.4 377.8V373.6H470.6V377.8M474.4 377.8V372.7H476.6V377.8M477.5 377.8V372.2H479.8V377.8M492.1 377.8V373.3H494.4V377.8M496.4 377.8V374H498.6V377.8M501.4 377.8V374H503.6V377.8M514.4 377.8V373.6H516.6V377.8M519.4 377.8V373.6H521.6V377.8M525 374H528.7M525 374V377.8M528.7 374V375.4M527.5 377.8V375.4H529.8V377.8M533.6 374H537.2M533.6 374V375.4M532.5 377.8V375.4H534.7V377.8M537.2 374V377.8M540.4 377.8V373.5H542.6V377.8M544.4 377.8V373.3H546.6V377.8M549.8 377.8V373.3H552.1V377.8M555.6 374H559.2M555.6 374V375.4M554.5 377.8V375.4H556.8V377.8M559.2 374V377.8M561.5 374H565.2M561.5 374V377.8M565.2 374V375.4M564.1 377.8V375.4H566.3V377.8M569.1 377.8V372.7H571.4V377.8M582.4 377.8V372.3H584.6V377.8M586.4 377.8V373.2H588.6V377.8M589.4 377.8V373.4H591.6V377.8M595.1 373.1H598.2M595.1 373.1V375.4M594 377.8V375.4H596.3V377.8M598.2 373.1V377.8M601.2 373.1H604.1M601.2 373.1V375.3M600.1 377.8V375.3H602.3V377.8M604.1 373.1V377.8M606.1 373.1H610.2M606.1 373.1V377.8M610.2 373.1V374.3M609.2 374.3H612.2M609.2 374.3V375.4M608 377.8V375.4H610.3V377.8M612.2 374.3V377.8M615.7 373.1H620.5M615.7 373.1V374.3M614.5 377.8V374.3H616.8V377.8M620.5 373.1V375.1M619.4 377.8V375.1H621.6V377.8M625.5 377.8V372.2H627.7V377.8M629.2 377.8V372.7H631.5V377.8M634.7 371.1H638.4M634.7 371.1V377.8M638.4 371.1V373.6M637.2 377.8V373.6H639.5V377.8M642 370.5H645.6M642 370.5V377.8M645.6 370.5V373.5M644.4 377.8V373.5H646.7V377.8M649.9 377.8V371.8H652.1V377.8" fill="none" stroke="#3c3c3c" stroke-width="0.85"/>
<path d="M513 313.5H621M513.5 313.5V336.5M620.5 313.5V351.5M596 351.5H646M596.5 351.5V356.5M645.5 351.5V359.5M634 359.5H656M634.5 359.5V363.5M655.5 359.5V366.5M653 366.5H657.1M653.5 366.5V369.5M650.5 369.5H654.9M628 363.5H642M628.5 363.5V366.5M641.5 363.5V369.5M636 369.5H645M626.1 366.5H630.8M588 356.5H607M588.5 356.5V366.5M606.5 356.5V367.5M599 367.5H614M599.5 367.5V372.5M613.5 367.5V372.5M607 372.5H620M595 372.5H603M585 366.5H591M585.5 366.5V370.5M583 370.5H588M464 336.5H563M464.5 336.5V343.5M562.5 336.5V351.5M544 351.5H580M544.5 351.5V358.5M579.5 351.5V377.8M520 358.5H570M520.5 358.5V363.5M569.5 358.5V363.5M562 363.5H577M562.5 363.5V367.5M576.5 363.5V371.5M574.6 371.5H577.7M554 367.5H572M554.5 367.5V368.5M571.5 367.5V371.5M569.7 371.5H573.6M549 368.5H560M549.5 368.5V371.5M559.5 368.5V372.5M555 372.5H566M548.3 371.5H551.5M506 363.5H534M506.5 363.5V368.5M533.5 363.5V369.5M524 369.5H544M524.5 369.5V370.5M543.5 369.5V371.5M541 371.5H546M518 370.5H531M518.5 370.5V372.5M530.5 370.5V372.5M526 372.5H536M515 372.5H521M502 368.5H511M502.5 368.5V370.5M510.5 368.5V373.5M508.4 373.5H511.5M499 370.5H507M499.5 370.5V372.5M497 372.5H503M441 343.5H488M441.5 343.5V351.5M487.5 343.5V358.5M483 358.5H492M483.5 358.5V364.5M491.5 358.5V366.5M489.8 366.5H493.8M481 364.5H486M481.5 364.5V368.5M485.5 364.5V369.5M484.2 369.5H487.2M478.2 368.5H483.1M421 351.5H461M421.5 351.5V352.5M460.5 351.5V359.5M454 359.5H468M454.5 359.5V367.5M467.5 359.5V367.5M462 367.5H472M462.5 367.5V370.5M471.5 367.5V371.5M469 371.5H476M460 370.5H465M452.7 367.5H456.4M407 352.5H436M407.5 352.5V357.5M435.5 352.5V359.5M426 359.5H445M426.5 359.5V364.5M444.5 359.5V365.5M437 365.5H451M437.5 365.5V367.5M450.5 365.5V367.5M449 367.5H452.1M432 367.5H444M432.5 367.5V369.5M443.5 367.5V370.5M439 370.5H447M439.5 370.5V372.5M436 372.5H443M430.8 369.5H434M424 364.5H430M424.5 364.5V368.5M429.5 364.5V377.8M421 368.5H427M421.5 368.5V370.5M418 370.5H424M418.5 370.5V371.5M416 371.5H421M416.5 371.5V372.5M413.7 372.5H418.1M405 357.5H411M405.5 357.5V364.5M410.5 357.5V366.5M408.7 366.5H412.2M402 364.5H408M402.5 364.5V367.5M400.4 367.5H404.4M400.9 367.5V377.8M403.9 367.5V377.8M407.5 364.5V377.8M409.2 366.5V377.8M411.7 366.5V377.8M414.2 372.5V377.8M417.6 372.5V377.8M420.5 371.5V377.8M423.5 370.5V377.8M426.5 368.5V377.8M431.3 369.5V377.8M433.5 369.5V377.8M436.5 372.5V373.6M442.5 372.5V373.6M446.5 370.5V371.7M449.5 367.5V377.8M451.6 367.5V377.8M453.2 367.5V377.8M455.9 367.5V372.4M460.5 370.5V372.8M464.5 370.5V373.2M469.5 371.5V373.6M475.5 371.5V372.7M478.7 368.5V372.2M482.6 368.5V377.8M484.7 369.5V377.8M486.7 369.5V377.8M490.3 366.5V377.8M493.3 366.5V373.3M497.5 372.5V374M502.5 372.5V374M506.5 370.5V377.8M508.9 373.5V377.8M511 373.5V377.8M515.5 372.5V373.6M520.5 372.5V373.6M526.5 372.5V374M535.5 372.5V374M541.5 371.5V373.5M545.5 371.5V373.3M548.8 371.5V377.8M551 371.5V373.3M555.5 372.5V374M565.5 372.5V374M570.2 371.5V372.7M573.1 371.5V377.8M575.1 371.5V377.8M577.2 371.5V377.8M583.5 370.5V372.3M587.5 370.5V373.2M590.5 366.5V373.4M595.5 372.5V373.1M602.5 372.5V373.1M607.5 372.5V373.1M619.5 372.5V373.1M626.6 366.5V372.2M630.3 366.5V372.7M636.5 369.5V371.1M644.5 369.5V370.5M651 369.5V371.8M654.4 369.5V377.8M656.6 366.5V377.8" fill="none" stroke="#303030" stroke-width="1"/>
<rect x="400.5" y="378.8" width="3.3" height="9.7" fill="#ffff00"/>
<rect x="402.8" y="378.8" width="3.1" height="9.7" fill="#c4c400"/>
<rect x="404.9" y="378.8" width="3" height="9.7" fill="#ffffff"/>
<rect x="406.9" y="378.8" width="3.4" height="9.7" fill="#ffd000"/>
<rect x="409.3" y="378.8" width="3.3" height="9.7" fill="#ffffff"/>
<rect x="411.6" y="378.8" width="3.2" height="9.7" fill="#4169e1"/>
<rect x="413.8" y="378.8" width="3.2" height="9.7" fill="#7fffd4"/>
<rect x="416" y="378.8" width="3.1" height="9.7" fill="#00c0c0"/>
<rect x="418.1" y="378.8" width="3.2" height="9.7" fill="#ffffff"/>
<rect x="420.3" y="378.8" width="3.2" height="9.7" fill="#0000ff"/>
<rect x="422.5" y="378.8" width="3.4" height="9.7" fill="#ffffff"/>
<rect x="424.9" y="378.8" width="3.2" height="9.7" fill="#008000"/>
<rect x="427.1" y="378.8" width="3" height="9.7" fill="#ffd000"/>
<rect x="429.1" y="378.8" width="3.2" height="9.7" fill="#ff0000"/>
<rect x="431.3" y="378.8" width="3.2" height="9.7" fill="#008000"/>
<rect x="433.5" y="378.8" width="3.4" height="9.7" fill="#ffffff"/>
<rect x="435.9" y="378.8" width="3.1" height="9.7" fill="#4169e1"/>
<rect x="438" y="378.8" width="3.1" height="9.7" fill="#7fffd4"/>
<rect x="440.1" y="378.8" width="3.1" height="9.7" fill="#008000"/>
<rect x="442.2" y="378.8" width="3.2" height="9.7" fill="#c000c0"/>
<rect x="444.4" y="378.8" width="3.4" height="9.7" fill="#ffff00"/>
<rect x="446.8" y="378.8" width="3" height="9.7" fill="#4169e1"/>
<rect x="448.8" y="378.8" width="3.2" height="9.7" fill="#ffd000"/>
<rect x="451" y="378.8" width="3.3" height="9.7" fill="#00c0c0"/>
<rect x="453.3" y="378.8" width="3.2" height="9.7" fill="#c000c0"/>
<rect x="455.5" y="378.8" width="3.2" height="9.7" fill="#000000"/>
<rect x="457.7" y="378.8" width="3.2" height="9.7" fill="#ffd000"/>
<rect x="459.9" y="378.8" width="3.2" height="9.7" fill="#6a5acd"/>
<rect x="462.1" y="378.8" width="3.2" height="9.7" fill="#00c0c0"/>
<rect x="464.3" y="378.8" width="3.2" height="9.7" fill="#000000"/>
<rect x="466.5" y="378.8" width="3.1" height="9.7" fill="#6a5acd"/>
<rect x="468.6" y="378.8" width="3.2" height="9.7" fill="#008000"/>
<rect x="470.8" y="378.8" width="3.2" height="9.7" fill="#ffd000"/>
<rect x="473" y="378.8" width="3.2" height="9.7" fill="#7fffd4"/>
<rect x="475.2" y="378.8" width="3.2" height="9.7" fill="#00c0c0"/>
<rect x="477.4" y="378.8" width="3.2" height="9.7" fill="#ffff00"/>
<rect x="479.6" y="378.8" width="3.2" height="9.7" fill="#c4c400"/>
<rect x="481.8" y="378.8" width="3.2" height="9.7" fill="#ffffff"/>
<rect x="484" y="378.8" width="3.2" height="9.7" fill="#ffd000"/>
<rect x="486.2" y="378.8" width="3.1" height="9.7" fill="#008000"/>
<rect x="488.3" y="378.8" width="3.2" height="9.7" fill="#000000"/>
<rect x="490.5" y="378.8" width="3.2" height="9.7" fill="#000080"/>
<rect x="492.7" y="378.8" width="3.2" height="9.7" fill="#0000ff"/>
<rect x="494.9" y="378.8" width="3.2" height="9.7" fill="#ff0000"/>
<rect x="497.1" y="378.8" width="3.2" height="9.7" fill="#ffffff"/>
<rect x="499.3" y="378.8" width="3.2" height="9.7" fill="#0000ff"/>
<rect x="501.5" y="378.8" width="3.2" height="9.7" fill="#ff0000"/>
<rect x="503.7" y="378.8" width="3.2" height="9.7" fill="#7fffd4"/>
<rect x="505.9" y="378.8" width="3.2" height="9.7" fill="#0000ff"/>
<rect x="508.1" y="378.8" width="5.3" height="9.7" fill="#ffffff"/>
<rect x="512.4" y="378.8" width="3.4" height="9.7" fill="#000080"/>
<rect x="514.8" y="378.8" width="3.2" height="9.7" fill="#000000"/>
<rect x="517" y="378.8" width="3.2" height="9.7" fill="#c4c400"/>
<rect x="519.2" y="378.8" width="3.1" height="9.7" fill="#008000"/>
<rect x="521.3" y="378.8" width="3.3" height="9.7" fill="#ff0000"/>
<rect x="523.6" y="378.8" width="3.2" height="9.7" fill="#00c0c0"/>
<rect x="525.8" y="378.8" width="3.2" height="9.7" fill="#ffffff"/>
<rect x="528" y="378.8" width="3.2" height="9.7" fill="#c000c0"/>
<rect x="530.2" y="378.8" width="2.9" height="9.7" fill="#6a5acd"/>
<rect x="532.1" y="378.8" width="3.2" height="9.7" fill="#0000ff"/>
<rect x="534.3" y="378.8" width="3.4" height="9.7" fill="#ffff00"/>
<rect x="536.7" y="378.8" width="3.1" height="9.7" fill="#000000"/>
<rect x="538.8" y="378.8" width="3.3" height="9.7" fill="#000080"/>
<rect x="541.1" y="378.8" width="3.2" height="9.7" fill="#ffffff"/>
<rect x="543.3" y="378.8" width="3.2" height="9.7" fill="#4169e1"/>
<rect x="545.5" y="378.8" width="3.2" height="9.7" fill="#c4c400"/>
<rect x="547.7" y="378.8" width="3.2" height="9.7" fill="#c000c0"/>
<rect x="549.9" y="378.8" width="3.2" height="9.7" fill="#c4c400"/>
<rect x="552.1" y="378.8" width="3.1" height="9.7" fill="#00c0c0"/>
<rect x="554.2" y="378.8" width="3.2" height="9.7" fill="#4169e1"/>
<rect x="556.4" y="378.8" width="3.2" height="9.7" fill="#ff0000"/>
<rect x="558.6" y="378.8" width="3.2" height="9.7" fill="#ffffff"/>
<rect x="560.8" y="378.8" width="3.2" height="9.7" fill="#008000"/>
<rect x="563" y="378.8" width="3.1" height="9.7" fill="#000000"/>
<rect x="565.1" y="378.8" width="3.1" height="9.7" fill="#4169e1"/>
<rect x="567.2" y="378.8" width="3.1" height="9.7" fill="#6a5acd"/>
<rect x="569.3" y="378.8" width="3.1" height="9.7" fill="#0000ff"/>
<rect x="571.4" y="378.8" width="3.2" height="9.7" fill="#000080"/>
<rect x="573.6" y="378.8" width="3.2" height="9.7" fill="#c000c0"/>
<rect x="575.8" y="378.8" width="3.2" height="9.7" fill="#c4c400"/>
<rect x="578" y="378.8" width="3.2" height="9.7" fill="#ffff00"/>
<rect x="580.2" y="378.8" width="3.4" height="9.7" fill="#ffd000"/>
<rect x="582.6" y="378.8" width="3.2" height="9.7" fill="#000080"/>
<rect x="584.8" y="378.8" width="3.1" height="9.7" fill="#6a5acd"/>
<rect x="586.9" y="378.8" width="3.5" height="9.7" fill="#7fffd4"/>
<rect x="589.4" y="378.8" width="3.2" height="9.7" fill="#00c0c0"/>
<rect x="591.6" y="378.8" width="3.2" height="9.7" fill="#ffffff"/>
<rect x="593.8" y="378.8" width="3.2" height="9.7" fill="#4169e1"/>
<rect x="596" y="378.8" width="3.2" height="9.7" fill="#00c0c0"/>
<rect x="598.2" y="378.8" width="3" height="9.7" fill="#000000"/>
<rect x="600.2" y="378.8" width="3.2" height="9.7" fill="#ff0000"/>
<rect x="602.4" y="378.8" width="3.2" height="9.7" fill="#0000ff"/>
<rect x="604.6" y="378.8" width="3.1" height="9.7" fill="#ff0000"/>
<rect x="606.7" y="378.8" width="3.2" height="9.7" fill="#7fffd4"/>
<rect x="608.9" y="378.8" width="3.4" height="9.7" fill="#008000"/>
<rect x="611.3" y="378.8" width="3.2" height="9.7" fill="#000000"/>
<rect x="613.5" y="378.8" width="3.2" height="9.7" fill="#ffffff"/>
<rect x="615.7" y="378.8" width="3.2" height="9.7" fill="#ffd000"/>
<rect x="617.9" y="378.8" width="3.2" height="9.7" fill="#c4c400"/>
<rect x="620.1" y="378.8" width="3.1" height="9.7" fill="#000080"/>
<rect x="622.2" y="378.8" width="3.2" height="9.7" fill="#c000c0"/>
<rect x="624.4" y="378.8" width="3" height="9.7" fill="#6a5acd"/>
<rect x="626.4" y="378.8" width="3.2" height="9.7" fill="#ffff00"/>
<rect x="628.6" y="378.8" width="3.2" height="9.7" fill="#ff0000"/>
<rect x="630.8" y="378.8" width="3.2" height="9.7" fill="#c4c400"/>
<rect x="633" y="378.8" width="3.1" height="9.7" fill="#c000c0"/>
<rect x="635.1" y="378.8" width="3.2" height="9.7" fill="#ff0000"/>
<rect x="637.3" y="378.8" width="3.2" height="9.7" fill="#ffffff"/>
<rect x="639.5" y="378.8" width="3.2" height="9.7" fill="#c4c400"/>
<rect x="641.7" y="378.8" width="3.2" height="9.7" fill="#000080"/>
<rect x="643.9" y="378.8" width="3.2" height="9.7" fill="#ffff00"/>
<rect x="646.1" y="378.8" width="3.2" height="9.7" fill="#008000"/>
<rect x="648.3" y="378.8" width="3.2" height="9.7" fill="#ffff00"/>
<rect x="650.5" y="378.8" width="3.2" height="9.7" fill="#c000c0"/>
<rect x="652.7" y="378.8" width="3.2" height="9.7" fill="#0000ff"/>
<rect x="654.9" y="378.8" width="2.1" height="9.7" fill="#c000c0"/></g>
</svg>
<div class="ttl" id="t1" style="left:172.6px;top:12.2px;font-size:11.2px;letter-spacing:0.38px;">By biological description</div>
<div class="ttl" id="t2" style="left:501.1px;top:12.2px;font-size:11.2px;letter-spacing:0.13px;">By batches</div>
<div class="lab" id="l1" style="left:29.6px;top:72.9px;font-size:16px;color:#c55a11;transform:scaleX(0.9225);">Raw</div>
<div class="lab" id="l2" style="left:12.9px;top:162.9px;font-size:16px;color:#bf9000;transform:scaleX(0.948);">Adjusted</div>
<div class="lab" id="l3" style="left:11.6px;top:252.9px;font-size:16px;color:#548235;transform:scaleX(0.9256);">Block = 2</div>
<div class="lab" id="l4" style="left:11.6px;top:339.3px;font-size:16px;color:#385723;transform:scaleX(0.9256);">Block = 4</div>
</body></html>
